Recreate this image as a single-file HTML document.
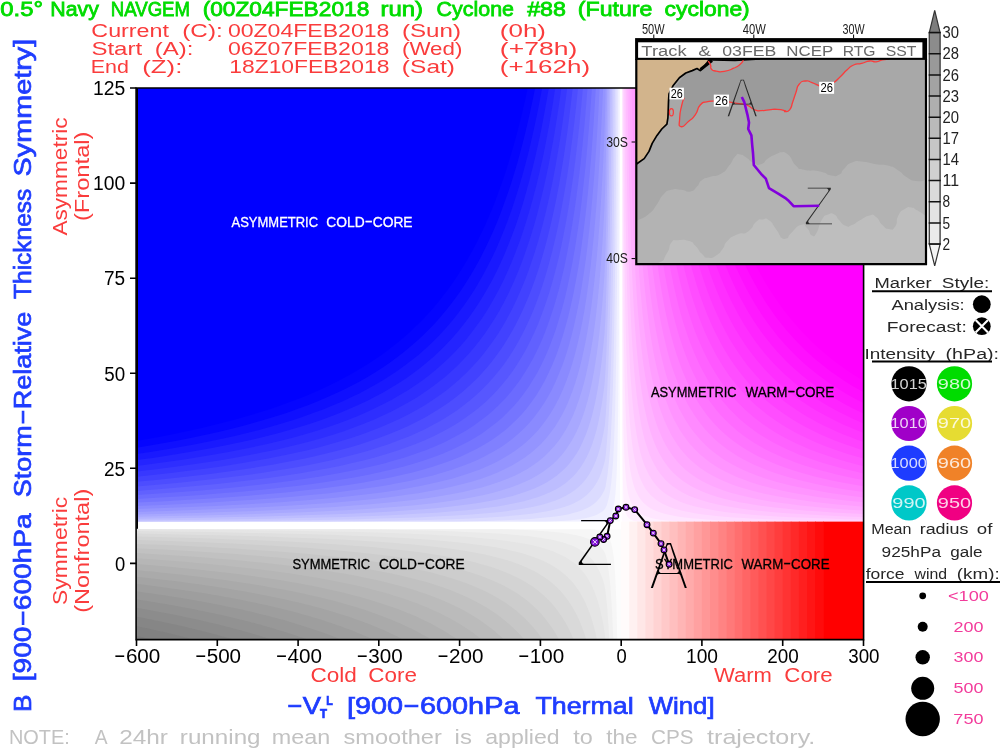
<!DOCTYPE html>
<html><head><meta charset="utf-8"><title>Cyclone phase space</title>
<style>html,body{margin:0;padding:0;background:#fff;overflow:hidden}svg{display:block}text{font-family:'Liberation Sans', sans-serif;white-space:pre}</style>
</head><body>
<svg width="1000" height="750" viewBox="0 0 1000 750">
<rect width="1000" height="750" fill="#fff"/>
<defs>
<clipPath id="cb"><rect x="136.5" y="88" width="483.5" height="433.6"/></clipPath>
<clipPath id="cm"><rect x="622" y="88" width="241.5" height="433.6"/></clipPath>
<clipPath id="cg"><rect x="136.5" y="529.2" width="484.7" height="110.3"/></clipPath>
</defs>
<g clip-path="url(#cb)">
<path d="M621.2 525.4L136.5 525.4L136.5 88L621.2 88Z" fill="#fafaff"/>
<path d="M136.5 525.3L201.7 525.2L258 525.2L306.9 525.2L349.1 525.2L385.7 525.1L417.3 525.1L444.7 525L468.4 525L489 524.9L506.7 524.8L522.1 524.7L535.4 524.6L547 524.5L556.9 524.4L565.6 524.2L573 524L579.5 523.8L585.1 523.6L590 523.3L594.2 523L597.8 522.6L600.9 522.2L603.6 521.7L605.5 521.1L606.6 520.4L607.6 519.6L608.6 518.7L609.4 517.7L610.3 516.5L611 515.1L611.7 513.6L612.4 511.7L613 509.6L613.6 507.1L614.1 504.3L614.6 501L615 497.2L615.5 492.9L615.9 487.8L616.2 482L616.6 475.2L616.9 467.4L617.2 458.4L617.5 448L617.7 436L618 422.1L618.2 406.1L618.4 387.6L618.6 366.2L618.8 341.4L618.9 312.9L619.1 279.9L619.2 241.7L619.4 197.7L619.5 146.8L619.6 88L136.5 88Z" fill="#f0f0ff"/>
<path d="M136.5 524.9L191.1 524.8L239.6 524.7L282.6 524.6L320.8 524.5L354.6 524.4L384.7 524.3L411.3 524.2L435 524L456 523.8L474.6 523.6L491.1 523.4L505.8 523.1L518.8 522.8L530.3 522.5L540.6 522.2L549.7 521.7L557.7 521.3L564.9 520.8L571.2 520.2L576.8 519.5L581.8 518.7L586.3 517.9L590.2 516.9L593.7 515.9L596.8 514.7L599.5 513.3L602 511.8L604.1 510L605.5 508.1L606.5 505.9L607.3 503.4L608.1 500.6L608.9 497.5L609.6 493.9L610.3 489.9L610.9 485.4L611.5 480.3L612 474.6L612.6 468.1L613.1 460.9L613.5 452.7L614 443.4L614.4 433L614.8 421.3L615.2 408L615.5 393.1L615.8 376.3L616.2 357.4L616.4 336L616.7 312L617 284.9L617.2 254.3L617.4 219.9L617.7 181.1L617.9 137.3L618.1 88L136.5 88Z" fill="#e6e6ff"/>
<path d="M136.5 524.2L184.9 524L228.4 523.9L267.6 523.7L302.9 523.5L334.6 523.3L363.2 523.1L389 522.9L412.1 522.6L433 522.3L451.8 521.9L468.7 521.5L483.9 521.1L497.6 520.6L509.9 520.1L521 519.5L531 518.9L540 518.1L548.1 517.3L555.4 516.4L562 515.5L567.9 514.4L573.2 513.1L578 511.8L582.3 510.3L586.2 508.6L589.7 506.7L592.8 504.7L595.6 502.4L598.2 499.8L600.5 497L602.5 493.8L604.4 490.3L605.6 486.4L606.3 482.1L607.1 477.3L607.8 472L608.5 466L609.2 459.5L609.8 452.2L610.4 444L610.9 435L611.4 425L611.9 413.9L612.4 401.5L612.9 387.8L613.3 372.5L613.7 355.6L614.1 336.8L614.4 315.8L614.8 292.6L615.1 266.8L615.4 238.1L615.7 206.3L616 170.9L616.3 131.6L616.5 88L136.5 88Z" fill="#dbdbff"/>
<path d="M136.5 523.2L180.4 523L220.2 522.8L256.5 522.5L289.5 522.2L319.5 521.9L346.8 521.6L371.7 521.2L394.2 520.8L414.8 520.3L433.4 519.8L450.4 519.3L465.9 518.7L479.9 518L492.7 517.3L504.3 516.4L514.9 515.6L524.5 514.6L533.3 513.5L541.2 512.3L548.5 511L555 509.6L561 508L566.5 506.3L571.4 504.4L575.9 502.3L580 500L583.7 497.5L587.1 494.7L590.2 491.6L593 488.3L595.6 484.6L597.9 480.5L600 476L601.9 471.1L603.6 465.7L605.1 459.8L605.9 453.2L606.6 446.1L607.2 438.2L607.9 429.5L608.5 420L609.1 409.5L609.7 397.9L610.2 385.3L610.7 371.3L611.2 356L611.6 339.1L612.1 320.6L612.5 300.2L612.9 277.8L613.3 253.2L613.7 226.1L614 196.3L614.3 163.6L614.6 127.6L615 88L136.5 88Z" fill="#d1d1ff"/>
<path d="M136.5 522L176.8 521.7L213.8 521.4L247.7 521L278.8 520.6L307.3 520.2L333.4 519.7L357.3 519.2L379.3 518.6L399.4 518L417.9 517.4L434.8 516.6L450.3 515.8L464.5 515L477.5 514L489.5 513L500.5 511.9L510.5 510.6L519.7 509.3L528.2 507.8L535.9 506.2L543 504.5L549.5 502.6L555.5 500.5L560.9 498.3L565.9 495.8L570.5 493.1L574.7 490.2L578.6 487L582.2 483.5L585.4 479.7L588.4 475.6L591.1 471L593.6 466.1L595.9 460.7L598 454.8L599.9 448.4L601.7 441.5L603.3 433.8L604.8 425.5L605.6 416.5L606.3 406.6L606.9 395.8L607.5 384L608.1 371.2L608.6 357.2L609.2 341.9L609.7 325.3L610.2 307.1L610.6 287.3L611.1 265.7L611.5 242.1L611.9 216.4L612.3 188.4L612.7 157.8L613.1 124.4L613.4 88L136.5 88Z" fill="#c7c7ff"/>
<path d="M136.5 520.5L173.9 520.1L208.5 519.7L240.3 519.2L269.7 518.7L296.9 518.1L321.9 517.5L345 516.9L366.4 516.2L386 515.4L404.2 514.5L420.9 513.6L436.4 512.7L450.7 511.6L463.8 510.4L476 509.2L487.2 507.8L497.5 506.4L507.1 504.8L515.9 503L524 501.2L531.5 499.1L538.5 496.9L544.8 494.6L550.7 492L556.2 489.2L561.2 486.2L565.8 482.9L570.1 479.3L574 475.5L577.7 471.3L581 466.7L584.1 461.8L587 456.5L589.6 450.8L592.1 444.5L594.3 437.7L596.4 430.4L598.3 422.4L600.1 413.8L601.7 404.5L603.2 394.4L604.6 383.4L605.4 371.5L606.1 358.7L606.7 344.7L607.2 329.6L607.8 313.2L608.3 295.4L608.8 276.2L609.3 255.3L609.8 232.7L610.2 208.2L610.6 181.7L611.1 152.9L611.5 121.8L611.8 88L136.5 88Z" fill="#bdbdff"/>
<path d="M136.5 518.8L171.5 518.3L203.9 517.7L234 517.1L261.9 516.5L287.8 515.8L311.9 515L334.2 514.2L354.9 513.4L374.1 512.4L391.9 511.4L408.4 510.3L423.8 509.2L438 507.9L451.2 506.5L463.5 505.1L474.9 503.5L485.4 501.8L495.2 500L504.3 498L512.7 495.9L520.5 493.6L527.8 491.1L534.5 488.4L540.8 485.5L546.6 482.4L552 479.1L557 475.5L561.6 471.6L565.9 467.4L569.9 462.9L573.6 458.1L577 452.9L580.2 447.2L583.1 441.1L585.9 434.6L588.4 427.5L590.8 419.9L593 411.7L595 402.9L596.9 393.4L598.7 383.1L600.3 372L601.8 360.1L603.2 347.3L604.5 333.4L605.4 318.5L605.9 302.4L606.5 285.1L607 266.4L607.5 246.3L608.1 224.6L608.5 201.2L609 176L609.4 148.8L609.9 119.5L610.3 88L136.5 88Z" fill="#b2b2ff"/>
<path d="M136.5 516.8L169.3 516.1L199.9 515.5L228.4 514.7L255 514L279.8 513.1L302.9 512.2L324.4 511.3L344.5 510.3L363.3 509.2L380.7 508L397 506.7L412.2 505.4L426.3 503.9L439.5 502.4L451.8 500.7L463.3 498.9L474 497L483.9 494.9L493.2 492.7L501.9 490.3L509.9 487.8L517.5 485L524.5 482.1L531 479L537.1 475.6L542.8 472L548.1 468.1L553.1 463.9L557.7 459.5L562 454.7L566 449.6L569.7 444.1L573.2 438.2L576.5 431.8L579.5 425L582.3 417.7L584.9 409.9L587.4 401.5L589.7 392.5L591.8 382.9L593.8 372.5L595.6 361.5L597.4 349.5L599 336.8L600.5 323.1L601.9 308.4L603.2 292.6L604.4 275.7L605.3 257.6L605.8 238.2L606.4 217.3L606.9 194.9L607.4 170.9L607.8 145.2L608.3 117.6L608.7 88L136.5 88Z" fill="#a8a8ff"/>
<path d="M136.5 514.5L167.4 513.7L196.3 512.9L223.4 512.1L248.8 511.2L272.5 510.2L294.8 509.2L315.6 508.1L335.1 506.9L353.3 505.6L370.4 504.3L386.4 502.8L401.3 501.3L415.4 499.7L428.5 497.9L440.8 496L452.3 494L463 491.9L473.1 489.6L482.6 487.2L491.4 484.6L499.7 481.8L507.4 478.8L514.7 475.7L521.5 472.3L527.8 468.7L533.8 464.8L539.3 460.7L544.6 456.3L549.4 451.6L554 446.5L558.3 441.2L562.3 435.4L566.1 429.3L569.6 422.7L572.9 415.8L575.9 408.3L578.8 400.3L581.5 391.8L584.1 382.7L586.4 373L588.6 362.6L590.7 351.5L592.7 339.7L594.5 327L596.2 313.5L597.8 299.1L599.3 283.7L600.7 267.2L602 249.6L603.2 230.8L604.3 210.8L605.2 189.3L605.7 166.4L606.2 142L606.7 115.9L607.2 88L136.5 88Z" fill="#9e9eff"/>
<path d="M136.5 511.9L165.7 511L193.1 510.1L218.9 509.1L243.1 508.1L265.9 507L287.3 505.8L307.4 504.6L326.3 503.2L344.1 501.8L360.8 500.3L376.4 498.7L391.2 497L405 495.1L418.1 493.2L430.3 491.1L441.8 488.9L452.6 486.6L462.7 484.1L472.3 481.5L481.3 478.7L489.7 475.7L497.6 472.5L505 469.1L512 465.5L518.6 461.6L524.8 457.6L530.6 453.2L536.1 448.6L541.2 443.7L546 438.4L550.5 432.8L554.8 426.9L558.8 420.6L562.5 413.9L566.1 406.7L569.4 399.1L572.5 391L575.4 382.4L578.2 373.3L580.8 363.5L583.2 353.1L585.5 342.1L587.6 330.4L589.7 317.8L591.6 304.5L593.3 290.4L595 275.3L596.6 259.3L598.1 242.2L599.5 224.1L600.8 204.8L602 184.2L603.2 162.4L604.2 139.1L605.1 114.3L605.6 88L136.5 88Z" fill="#9494ff"/>
<path d="M136.5 509.1L164.1 508.1L190.2 507L214.8 505.9L238 504.8L259.8 503.5L280.4 502.2L299.9 500.8L318.2 499.3L335.5 497.7L351.7 496L367.1 494.3L381.6 492.4L395.3 490.4L408.1 488.3L420.3 486L431.8 483.6L442.6 481.1L452.7 478.4L462.3 475.6L471.4 472.6L479.9 469.4L488 466L495.6 462.4L502.8 458.6L509.5 454.5L515.9 450.3L521.9 445.7L527.5 440.9L532.9 435.8L537.9 430.4L542.7 424.6L547.1 418.5L551.4 412.1L555.3 405.2L559.1 397.9L562.6 390.2L566 382.1L569.1 373.4L572.1 364.2L574.9 354.5L577.5 344.1L580 333.2L582.4 321.5L584.6 309.2L586.7 296.1L588.6 282.3L590.5 267.6L592.2 252L593.9 235.4L595.4 217.9L596.9 199.3L598.3 179.6L599.6 158.6L600.8 136.5L602 112.9L603.1 88L136.5 88Z" fill="#8a8aff"/>
<path d="M136.5 506L162.7 504.9L187.5 503.7L211 502.4L233.2 501.1L254.2 499.7L274 498.3L292.8 496.7L310.5 495.1L327.4 493.4L343.2 491.5L358.3 489.6L372.5 487.5L386 485.4L398.7 483.1L410.7 480.7L422.1 478.1L432.9 475.4L443 472.5L452.7 469.5L461.8 466.3L470.4 462.9L478.6 459.4L486.3 455.6L493.6 451.6L500.5 447.4L507 442.9L513.2 438.2L519 433.2L524.6 427.9L529.8 422.4L534.7 416.5L539.4 410.3L543.8 403.7L548 396.7L552 389.4L555.7 381.6L559.2 373.3L562.6 364.7L565.8 355.5L568.8 345.7L571.6 335.5L574.3 324.6L576.8 313.1L579.2 301L581.5 288.1L583.6 274.6L585.7 260.2L587.6 245.1L589.4 229L591.1 212.1L592.7 194.2L594.3 175.2L595.7 155.2L597.1 134L598.4 111.7L599.6 88L136.5 88Z" fill="#8080ff"/>
<path d="M136.5 502.6L161.4 501.4L185 500.1L207.4 498.7L228.7 497.2L248.9 495.7L268 494.1L286.1 492.4L303.4 490.6L319.7 488.7L335.2 486.8L349.9 484.7L363.8 482.5L377 480.1L389.6 477.7L401.5 475.1L412.8 472.4L423.5 469.5L433.6 466.5L443.3 463.3L452.4 459.9L461.1 456.4L469.3 452.6L477.1 448.7L484.5 444.5L491.5 440.2L498.2 435.5L504.5 430.7L510.5 425.5L516.2 420.1L521.6 414.4L526.7 408.4L531.6 402.1L536.2 395.4L540.5 388.4L544.7 380.9L548.6 373.1L552.3 364.9L555.9 356.2L559.2 347L562.4 337.3L565.4 327.1L568.3 316.4L571 305.1L573.6 293.2L576 280.6L578.4 267.3L580.6 253.3L582.6 238.6L584.6 223.1L586.5 206.7L588.3 189.4L590 171.2L591.6 152L593.1 131.8L594.5 110.5L595.9 88L136.5 88Z" fill="#7575ff"/>
<path d="M136.5 499L160.2 497.6L182.7 496.2L204.1 494.7L224.5 493.1L243.9 491.4L262.3 489.7L279.9 487.8L296.6 485.9L312.4 483.9L327.5 481.8L341.9 479.5L355.5 477.2L368.5 474.7L380.8 472.1L392.6 469.3L403.8 466.5L414.4 463.4L424.5 460.2L434.1 456.9L443.2 453.4L451.9 449.7L460.2 445.8L468.1 441.7L475.6 437.4L482.7 432.9L489.4 428.1L495.9 423.1L502 417.9L507.8 412.3L513.4 406.5L518.6 400.4L523.6 394L528.4 387.2L532.9 380.1L537.3 372.7L541.4 364.8L545.3 356.6L549 347.9L552.5 338.8L555.9 329.2L559 319.1L562.1 308.5L565 297.4L567.7 285.7L570.3 273.3L572.8 260.4L575.2 246.8L577.4 232.5L579.6 217.4L581.6 201.6L583.5 184.9L585.4 167.4L587.1 149L588.8 129.7L590.4 109.4L591.9 88L136.5 88Z" fill="#6b6bff"/>
<path d="M136.5 495L159 493.6L180.5 492L201 490.4L220.6 488.7L239.2 486.9L257 485L273.9 483L290.1 481L305.5 478.8L320.2 476.5L334.2 474.1L347.5 471.6L360.3 469L372.4 466.3L384 463.4L395 460.3L405.5 457.2L415.6 453.8L425.1 450.4L434.3 446.7L443 442.9L451.2 438.8L459.2 434.6L466.7 430.2L473.9 425.5L480.7 420.6L487.3 415.5L493.5 410.2L499.4 404.6L505.1 398.7L510.5 392.5L515.6 386L520.6 379.2L525.2 372.1L529.7 364.6L534 356.7L538 348.5L541.9 339.9L545.6 330.8L549.1 321.3L552.4 311.3L555.6 300.9L558.7 289.9L561.6 278.5L564.4 266.4L567 253.8L569.5 240.5L571.9 226.6L574.2 212L576.4 196.7L578.5 180.7L580.5 163.9L582.4 146.3L584.2 127.8L585.9 108.4L587.5 88L136.5 88Z" fill="#6161ff"/>
<path d="M136.5 490.9L158 489.3L178.5 487.6L198.1 485.8L216.9 484L234.8 482.1L251.9 480.1L268.3 478L283.9 475.8L298.9 473.5L313.2 471.1L326.8 468.5L339.9 465.9L352.3 463.1L364.3 460.2L375.6 457.2L386.5 454.1L396.9 450.8L406.9 447.3L416.4 443.7L425.4 439.9L434.1 435.9L442.4 431.8L450.3 427.4L457.9 422.9L465.1 418.1L472.1 413.1L478.7 407.9L485 402.5L491 396.8L496.8 390.8L502.3 384.6L507.6 378.1L512.6 371.2L517.4 364.1L522 356.6L526.4 348.8L530.6 340.6L534.6 332L538.5 323L542.1 313.6L545.6 303.8L549 293.5L552.2 282.8L555.2 271.5L558.2 259.8L561 247.4L563.6 234.5L566.2 221.1L568.6 206.9L570.9 192.2L573.2 176.7L575.3 160.5L577.3 143.6L579.3 125.9L581.1 107.4L582.9 88L136.5 88Z" fill="#5757ff"/>
<path d="M136.5 486.4L157 484.7L176.6 482.9L195.4 481L213.4 479.1L230.6 477L247.1 474.9L262.9 472.7L278 470.3L292.5 467.9L306.4 465.4L319.7 462.7L332.5 459.9L344.7 457.1L356.3 454L367.5 450.9L378.3 447.6L388.5 444.2L398.3 440.6L407.8 436.9L416.8 433L425.4 428.9L433.7 424.6L441.6 420.2L449.2 415.5L456.5 410.7L463.4 405.6L470.1 400.3L476.5 394.8L482.6 389.1L488.4 383L494 376.8L499.4 370.2L504.6 363.4L509.5 356.2L514.2 348.7L518.7 340.9L523.1 332.8L527.2 324.3L531.2 315.4L535 306.2L538.6 296.5L542.1 286.4L545.4 275.9L548.6 264.9L551.7 253.4L554.6 241.4L557.5 228.8L560.1 215.7L562.7 202.1L565.2 187.8L567.6 172.9L569.8 157.4L572 141.1L574.1 124.2L576.1 106.5L578 88L136.5 88Z" fill="#4d4dff"/>
<path d="M136.5 481.7L156 479.9L174.8 477.9L192.8 476L210 473.9L226.6 471.7L242.5 469.5L257.8 467.1L272.4 464.7L286.5 462.1L299.9 459.5L312.9 456.7L325.3 453.8L337.2 450.8L348.7 447.7L359.7 444.4L370.2 441L380.3 437.5L390 433.8L399.3 429.9L408.3 425.9L416.8 421.7L425.1 417.4L433 412.8L440.6 408.1L447.8 403.2L454.8 398.1L461.5 392.7L468 387.1L474.1 381.3L480.1 375.3L485.7 369L491.2 362.4L496.4 355.6L501.5 348.4L506.3 341L510.9 333.3L515.4 325.2L519.6 316.8L523.7 308L527.6 298.9L531.4 289.4L535 279.5L538.5 269.2L541.8 258.4L545 247.2L548.1 235.5L551 223.3L553.9 210.6L556.6 197.4L559.2 183.7L561.7 169.3L564.1 154.4L566.4 138.8L568.6 122.5L570.7 105.6L572.7 88L136.5 88Z" fill="#4242ff"/>
<path d="M136.5 476.7L155.1 474.8L173 472.7L190.3 470.6L206.8 468.4L222.8 466.2L238.1 463.8L252.8 461.3L267 458.8L280.6 456.1L293.7 453.3L306.3 450.4L318.4 447.4L330 444.3L341.2 441.1L352 437.7L362.3 434.2L372.3 430.6L381.8 426.8L391 422.8L399.9 418.7L408.4 414.5L416.6 410L424.4 405.4L432 400.6L439.3 395.6L446.3 390.5L453 385.1L459.4 379.5L465.7 373.6L471.6 367.5L477.4 361.2L482.9 354.7L488.2 347.8L493.3 340.8L498.3 333.4L503 325.7L507.5 317.7L511.9 309.4L516.1 300.8L520.1 291.8L524 282.5L527.8 272.7L531.3 262.6L534.8 252.1L538.1 241.2L541.3 229.8L544.4 218L547.3 205.7L550.2 193L552.9 179.7L555.5 165.9L558 151.5L560.5 136.5L562.8 121L565 104.8L567.2 88L136.5 88Z" fill="#3838ff"/>
<path d="M136.5 471.4L154.3 469.4L171.4 467.3L187.9 465L203.8 462.7L219.1 460.4L233.8 457.9L248.1 455.3L261.7 452.6L274.9 449.9L287.6 447L299.9 444L311.6 440.9L323 437.7L333.9 434.4L344.5 430.9L354.6 427.3L364.4 423.5L373.8 419.7L382.9 415.6L391.6 411.5L400 407.1L408.2 402.6L416 398L423.5 393.1L430.7 388.1L437.7 382.8L444.5 377.4L450.9 371.8L457.2 365.9L463.2 359.8L469 353.5L474.6 347L479.9 340.2L485.1 333.2L490.1 325.8L494.9 318.2L499.6 310.4L504 302.2L508.3 293.7L512.5 284.8L516.4 275.7L520.3 266.2L524 256.3L527.5 246.1L531 235.4L534.3 224.4L537.5 212.9L540.5 201L543.5 188.7L546.3 175.9L549.1 162.5L551.7 148.7L554.3 134.4L556.7 119.5L559.1 104L561.4 88L136.5 88Z" fill="#2e2eff"/>
<path d="M136.5 465.9L153.5 463.8L169.8 461.5L185.6 459.2L200.9 456.8L215.6 454.3L229.8 451.7L243.5 449.1L256.7 446.3L269.4 443.4L281.8 440.4L293.6 437.4L305.1 434.2L316.2 430.9L326.8 427.4L337.1 423.9L347.1 420.2L356.7 416.4L365.9 412.4L374.9 408.3L383.5 404.1L391.8 399.7L399.8 395.1L407.6 390.4L415.1 385.5L422.3 380.4L429.2 375.2L435.9 369.7L442.4 364.1L448.7 358.2L454.7 352.2L460.5 345.9L466.2 339.4L471.6 332.6L476.8 325.6L481.9 318.4L486.8 310.9L491.5 303.1L496 295.1L500.4 286.7L504.6 278L508.7 269.1L512.6 259.8L516.4 250.1L520.1 240.2L523.6 229.8L527 219.1L530.3 208L533.5 196.5L536.6 184.5L539.5 172.2L542.4 159.4L545.2 146.1L547.8 132.3L550.4 118.1L552.9 103.3L555.2 88L136.5 88Z" fill="#2424ff"/>
<path d="M136.5 460.1L152.7 457.9L168.3 455.5L183.5 453.1L198.1 450.6L212.2 448L225.9 445.3L239.1 442.6L251.8 439.7L264.2 436.8L276.1 433.7L287.6 430.5L298.7 427.3L309.5 423.9L319.9 420.4L330 416.7L339.7 413L349.1 409.1L358.2 405.1L367 400.9L375.5 396.6L383.7 392.2L391.6 387.6L399.3 382.8L406.7 377.9L413.8 372.8L420.8 367.5L427.4 362.1L433.9 356.4L440.2 350.6L446.2 344.5L452.1 338.3L457.7 331.8L463.2 325.1L468.4 318.2L473.5 311.1L478.5 303.6L483.2 296L487.8 288.1L492.3 279.9L496.6 271.4L500.8 262.6L504.8 253.5L508.7 244.1L512.4 234.4L516.1 224.4L519.6 214L523 203.2L526.2 192.1L529.4 180.6L532.5 168.6L535.4 156.3L538.3 143.6L541.1 130.4L543.7 116.7L546.3 102.6L548.8 88L136.5 88Z" fill="#1919ff"/>
<path d="M136.5 454L151.9 451.7L166.9 449.3L181.4 446.8L195.4 444.2L208.9 441.5L222.1 438.7L234.8 435.9L247.1 432.9L259 429.9L270.6 426.8L281.7 423.5L292.5 420.2L303 416.7L313.1 413.1L323 409.4L332.5 405.6L341.7 401.7L350.6 397.6L359.2 393.4L367.5 389L375.6 384.6L383.4 379.9L391 375.1L398.3 370.2L405.4 365.1L412.3 359.8L419 354.4L425.4 348.7L431.6 342.9L437.7 336.9L443.5 330.7L449.2 324.3L454.7 317.7L460 310.8L465.1 303.8L470.1 296.5L474.9 289L479.5 281.2L484.1 273.1L488.4 264.8L492.7 256.3L496.8 247.4L500.7 238.3L504.6 228.8L508.3 219.1L511.9 209L515.3 198.6L518.7 187.8L522 176.7L525.1 165.2L528.2 153.4L531.2 141.1L534 128.5L536.8 115.4L539.5 101.9L542.1 88L136.5 88Z" fill="#0f0fff"/>
<path d="M136.5 447.7L151.2 445.3L165.5 442.8L179.4 440.2L192.8 437.5L205.8 434.7L218.4 431.9L230.7 429L242.5 425.9L254 422.8L265.2 419.6L276 416.3L286.5 412.9L296.7 409.3L306.5 405.7L316.1 402L325.3 398.1L334.3 394.1L343.1 390L351.5 385.7L359.7 381.4L367.6 376.9L375.3 372.2L382.8 367.4L390.1 362.5L397.1 357.3L403.9 352.1L410.5 346.6L416.9 341L423.1 335.3L429.1 329.3L435 323.2L440.6 316.8L446.1 310.3L451.4 303.5L456.6 296.6L461.6 289.4L466.4 282L471.1 274.4L475.7 266.5L480.1 258.4L484.4 250.1L488.5 241.4L492.6 232.5L496.5 223.4L500.3 213.9L503.9 204.1L507.5 194.1L511 183.7L514.3 173L517.6 161.9L520.7 150.5L523.8 138.8L526.7 126.7L529.6 114.2L532.4 101.3L535.1 88L136.5 88Z" fill="#0505ff"/>
<path d="M136.5 441.1L150.5 438.6L164.2 436L177.4 433.3L190.3 430.6L202.8 427.7L214.9 424.8L226.6 421.8L238.1 418.7L249.2 415.5L260 412.3L270.4 408.9L280.6 405.4L290.4 401.8L300 398.2L309.3 394.4L318.4 390.4L327.1 386.4L335.7 382.3L343.9 378L352 373.6L359.8 369.1L367.3 364.4L374.7 359.6L381.8 354.7L388.8 349.6L395.5 344.3L402 338.9L408.4 333.4L414.5 327.6L420.5 321.7L426.3 315.7L432 309.4L437.5 303L442.8 296.3L448 289.5L453 282.4L457.8 275.2L462.6 267.7L467.2 260L471.6 252.1L476 244L480.2 235.6L484.3 226.9L488.2 218L492.1 208.9L495.8 199.4L499.4 189.7L503 179.7L506.4 169.4L509.7 158.7L513 147.8L516.1 136.5L519.1 124.9L522.1 113L525 100.7L527.7 88L136.5 88Z" fill="#0000ff"/>
</g>
<g clip-path="url(#cm)">
<path d="M621.2 525.4L863.5 525.4L863.5 88L621.2 88Z" fill="#fffaff"/>
<path d="M863.5 525.2L833 525.1L806.3 525.1L782.9 525.1L762.5 525L744.7 524.9L729.1 524.9L715.5 524.8L703.6 524.7L693.2 524.6L684.2 524.5L676.2 524.4L669.3 524.2L663.2 524.1L657.9 523.9L653.3 523.7L649.2 523.4L645.7 523.1L642.6 522.8L639.9 522.4L637.5 522L635.5 521.5L633.7 520.9L632.1 520.3L630.7 519.5L629.5 518.7L628.5 517.7L627.5 516.6L626.7 515.3L626 513.9L625.4 512.2L624.9 510.3L624.4 508.2L624 505.7L623.6 502.8L623.5 499.6L623.3 495.8L623.2 491.6L623 486.7L622.9 481.1L622.8 474.7L622.7 467.4L622.6 459.1L622.5 449.5L622.4 438.6L622.3 426L622.3 411.7L622.2 395.3L622.1 376.5L622.1 355.1L622 330.5L621.9 302.4L621.9 270.2L621.8 233.4L621.8 191.3L621.8 143.1L621.7 88L863.5 88Z" fill="#fff0ff"/>
<path d="M863.5 524.5L838.3 524.4L815.7 524.2L795.4 524.1L777.3 524L761 523.8L746.4 523.6L733.4 523.4L721.7 523.2L711.2 522.9L701.8 522.6L693.4 522.3L685.9 521.9L679.2 521.5L673.1 521.1L667.7 520.6L662.9 520L658.5 519.4L654.6 518.7L651.2 517.9L648 517.1L645.2 516.1L642.7 515L640.5 513.8L638.5 512.4L636.7 510.9L635.1 509.3L633.6 507.4L632.3 505.3L631.2 502.9L630.1 500.3L629.2 497.4L628.3 494.2L627.6 490.5L626.9 486.5L626.3 482L625.8 476.9L625.3 471.3L624.9 465L624.5 458L624.1 450.1L623.8 441.4L623.6 431.6L623.4 420.7L623.3 408.5L623.2 394.9L623.1 379.8L623 362.8L622.9 343.9L622.8 322.8L622.7 299.3L622.6 273L622.6 243.7L622.5 210.9L622.4 174.4L622.3 133.6L622.3 88L863.5 88Z" fill="#ffe6ff"/>
<path d="M863.5 523.3L841.4 523.1L821.4 522.9L803.1 522.6L786.6 522.3L771.5 522L757.8 521.7L745.4 521.3L734 520.9L723.8 520.5L714.4 520L705.9 519.4L698.2 518.8L691.2 518.2L684.8 517.5L679 516.7L673.7 515.8L669 514.8L664.6 513.8L660.6 512.6L657.1 511.3L653.8 509.9L650.8 508.4L648.1 506.7L645.7 504.8L643.4 502.7L641.4 500.5L639.6 498L637.9 495.2L636.4 492.2L635 488.9L633.7 485.2L632.6 481.2L631.5 476.8L630.6 471.9L629.7 466.5L629 460.6L628.2 454.1L627.6 447L627 439.1L626.5 430.5L626 421L625.6 410.5L625.2 399L624.8 386.3L624.5 372.4L624.2 357.1L623.9 340.2L623.6 321.7L623.5 301.2L623.4 278.8L623.3 254.1L623.2 226.9L623.1 197L623 164L622.9 127.8L622.8 88L863.5 88Z" fill="#ffdbff"/>
<path d="M863.5 521.7L843.7 521.4L825.5 521L808.8 520.6L793.5 520.2L779.4 519.7L766.5 519.2L754.6 518.7L743.7 518.1L733.7 517.4L724.5 516.7L716.1 515.9L708.3 515.1L701.2 514.2L694.7 513.2L688.7 512.1L683.1 510.9L678.1 509.6L673.4 508.2L669.2 506.7L665.2 505.1L661.6 503.2L658.3 501.3L655.3 499.1L652.5 496.8L649.9 494.2L647.6 491.5L645.4 488.5L643.5 485.2L641.6 481.6L640 477.7L638.4 473.4L637 468.8L635.7 463.8L634.5 458.3L633.4 452.3L632.4 445.8L631.5 438.8L630.7 431.1L629.9 422.7L629.2 413.5L628.5 403.6L627.9 392.7L627.4 380.9L626.9 368.1L626.4 354.1L626 338.9L625.6 322.3L625.2 304.2L624.9 284.5L624.6 263.1L624.3 239.8L624 214.3L623.8 186.7L623.6 156.5L623.5 123.7L623.4 88L863.5 88Z" fill="#ffd1ff"/>
<path d="M863.5 519.6L845.5 519.2L828.8 518.6L813.4 518.1L799.1 517.5L785.9 516.9L773.6 516.2L762.3 515.5L751.8 514.7L742.1 513.8L733.1 512.9L724.8 511.9L717.1 510.8L709.9 509.6L703.3 508.3L697.2 507L691.6 505.5L686.3 503.9L681.5 502.2L677 500.3L672.9 498.3L669 496.1L665.5 493.8L662.2 491.2L659.1 488.5L656.3 485.5L653.7 482.3L651.3 478.8L649 475.1L647 471.1L645 466.7L643.3 462L641.6 456.9L640.1 451.4L638.7 445.5L637.4 439L636.2 432.1L635.1 424.6L634 416.5L633.1 407.8L632.2 398.3L631.4 388.1L630.6 377.1L629.9 365.2L629.3 352.3L628.7 338.4L628.1 323.4L627.6 307.2L627.1 289.6L626.7 270.7L626.3 250.2L625.9 228.1L625.5 204.3L625.2 178.5L624.9 150.6L624.6 120.5L624.4 88L863.5 88Z" fill="#ffc7ff"/>
<path d="M863.5 517.1L846.9 516.5L831.5 515.8L817.2 515.1L803.8 514.3L791.3 513.5L779.7 512.7L768.9 511.7L758.8 510.7L749.4 509.7L740.6 508.5L732.5 507.3L724.9 505.9L717.8 504.5L711.2 503L705 501.3L699.3 499.6L694 497.7L689 495.7L684.4 493.5L680 491.1L676 488.6L672.3 485.9L668.8 483L665.5 479.9L662.5 476.6L659.7 473L657 469.2L654.6 465.1L652.3 460.6L650.2 455.9L648.2 450.8L646.4 445.3L644.6 439.4L643 433.1L641.5 426.4L640.2 419.1L638.9 411.3L637.6 403L636.5 394L635.5 384.4L634.5 374L633.6 362.9L632.7 351L631.9 338.2L631.2 324.5L630.5 309.8L629.9 294L629.3 277L628.7 258.8L628.2 239.3L627.7 218.3L627.3 195.8L626.9 171.6L626.5 145.7L626.1 117.9L625.8 88L863.5 88Z" fill="#ffbdff"/>
<path d="M863.5 514.1L848.2 513.3L833.9 512.5L820.4 511.6L807.8 510.7L796.1 509.7L785 508.6L774.7 507.5L765 506.3L755.9 505L747.4 503.6L739.4 502.2L731.9 500.6L724.9 498.9L718.4 497.2L712.2 495.2L706.5 493.2L701.1 491L696.1 488.7L691.3 486.3L686.9 483.6L682.7 480.8L678.9 477.8L675.2 474.6L671.8 471.2L668.6 467.5L665.6 463.6L662.8 459.4L660.2 455L657.7 450.3L655.4 445.2L653.2 439.8L651.2 434L649.3 427.8L647.5 421.3L645.9 414.2L644.3 406.8L642.8 398.8L641.5 390.2L640.2 381.1L639 371.4L637.9 361L636.8 349.9L635.8 338.1L634.9 325.5L634 312L633.2 297.6L632.5 282.2L631.7 265.8L631.1 248.4L630.5 229.7L629.9 209.7L629.3 188.5L628.8 165.7L628.3 141.5L627.9 115.6L627.4 88L863.5 88Z" fill="#ffb2ff"/>
<path d="M863.5 510.6L849.3 509.7L835.9 508.7L823.3 507.7L811.4 506.5L800.3 505.4L789.8 504.1L779.9 502.8L770.6 501.4L761.8 499.9L753.5 498.3L745.8 496.6L738.5 494.8L731.6 492.9L725.1 490.9L719 488.7L713.3 486.5L707.9 484L702.8 481.4L698 478.7L693.5 475.8L689.2 472.7L685.2 469.4L681.5 465.9L677.9 462.2L674.6 458.3L671.5 454.1L668.5 449.7L665.7 444.9L663.1 439.9L660.7 434.6L658.3 428.9L656.2 422.9L654.1 416.5L652.2 409.7L650.4 402.5L648.6 394.9L647 386.7L645.5 378.1L644.1 368.9L642.7 359.2L641.5 348.8L640.3 337.8L639.2 326.1L638.1 313.7L637.1 300.5L636.2 286.5L635.3 271.6L634.5 255.8L633.7 238.9L633 221.1L632.3 202.1L631.6 182L631 160.6L630.4 137.8L629.9 113.7L629.4 88L863.5 88Z" fill="#ffa8ff"/>
<path d="M863.5 506.7L850.2 505.6L837.7 504.4L825.9 503.2L814.7 501.9L804.1 500.6L794.1 499.1L784.6 497.6L775.7 496L767.2 494.3L759.2 492.5L751.7 490.6L744.5 488.6L737.8 486.5L731.4 484.2L725.4 481.8L719.7 479.3L714.3 476.6L709.2 473.8L704.4 470.8L699.8 467.7L695.5 464.3L691.5 460.8L687.6 457.1L684 453.1L680.5 448.9L677.3 444.5L674.2 439.8L671.3 434.9L668.6 429.6L666 424.1L663.5 418.2L661.2 412L659 405.5L656.9 398.5L655 391.2L653.1 383.4L651.4 375.2L649.7 366.5L648.2 357.3L646.7 347.6L645.3 337.3L644 326.4L642.7 314.9L641.6 302.7L640.4 289.8L639.4 276.2L638.4 261.8L637.4 246.5L636.6 230.4L635.7 213.3L634.9 195.3L634.2 176.1L633.5 155.9L632.8 134.5L632.1 111.9L631.5 88L863.5 88Z" fill="#ff9eff"/>
<path d="M863.5 502.3L851.1 501L839.3 499.7L828.2 498.3L817.6 496.9L807.6 495.3L798 493.7L789 492L780.4 490.2L772.2 488.3L764.5 486.3L757.2 484.2L750.2 482L743.6 479.6L737.4 477.2L731.4 474.6L725.8 471.8L720.4 468.9L715.4 465.9L710.5 462.7L706 459.3L701.6 455.8L697.5 452L693.6 448L689.9 443.9L686.4 439.5L683.1 434.8L679.9 430L676.9 424.8L674 419.4L671.3 413.7L668.8 407.7L666.3 401.3L664 394.6L661.8 387.6L659.8 380.2L657.8 372.3L655.9 364.1L654.1 355.4L652.4 346.2L650.8 336.6L649.3 326.4L647.9 315.7L646.5 304.4L645.2 292.4L644 279.9L642.8 266.6L641.7 252.7L640.7 238L639.7 222.5L638.7 206.2L637.8 189L637 170.8L636.2 151.7L635.4 131.6L634.7 110.4L634 88L863.5 88Z" fill="#ff94ff"/>
<path d="M863.5 497.4L851.9 496L840.8 494.5L830.3 493L820.3 491.3L810.8 489.6L801.7 487.8L793 485.9L784.8 484L776.9 481.9L769.5 479.7L762.4 477.4L755.6 475L749.2 472.4L743 469.8L737.2 467L731.6 464L726.3 460.9L721.3 457.7L716.5 454.3L711.9 450.7L707.6 446.9L703.5 443L699.5 438.8L695.8 434.5L692.2 429.9L688.8 425.1L685.5 420.1L682.5 414.8L679.5 409.2L676.7 403.4L674.1 397.2L671.5 390.8L669.1 384L666.8 376.9L664.6 369.4L662.6 361.5L660.6 353.3L658.7 344.6L656.9 335.5L655.2 326L653.5 316L652 305.4L650.5 294.4L649.1 282.7L647.8 270.5L646.5 257.7L645.3 244.2L644.1 230.1L643 215.2L642 199.6L641 183.2L640 166L639.1 147.9L638.3 128.9L637.4 109L636.7 88L863.5 88Z" fill="#ff8aff"/>
<path d="M863.5 492.1L852.6 490.5L842.2 488.9L832.3 487.2L822.8 485.4L813.7 483.5L805.1 481.5L796.8 479.5L788.9 477.3L781.4 475L774.2 472.7L767.3 470.2L760.7 467.6L754.5 464.9L748.5 462L742.7 459L737.3 455.9L732.1 452.6L727.1 449.2L722.3 445.6L717.8 441.9L713.4 437.9L709.3 433.8L705.3 429.5L701.5 425L697.9 420.3L694.5 415.3L691.2 410.1L688 404.7L685 399L682.2 393.1L679.4 386.9L676.8 380.3L674.3 373.5L671.9 366.4L669.6 358.9L667.4 351L665.4 342.8L663.4 334.2L661.5 325.2L659.7 315.8L657.9 306L656.3 295.6L654.7 284.8L653.2 273.5L651.8 261.7L650.4 249.2L649.1 236.2L647.8 222.6L646.6 208.4L645.5 193.5L644.4 177.8L643.3 161.5L642.3 144.4L641.4 126.4L640.5 107.7L639.6 88L863.5 88Z" fill="#ff80ff"/>
<path d="M863.5 486.3L853.3 484.6L843.5 482.8L834.1 480.9L825.1 479L816.5 476.9L808.2 474.8L800.4 472.5L792.8 470.2L785.5 467.8L778.6 465.2L772 462.6L765.6 459.8L759.5 456.9L753.7 453.9L748.1 450.8L742.7 447.5L737.6 444L732.7 440.5L728 436.7L723.4 432.8L719.1 428.7L715 424.5L711 420L707.2 415.4L703.6 410.5L700.1 405.5L696.8 400.2L693.6 394.7L690.5 388.9L687.6 382.9L684.8 376.6L682.1 370L679.6 363.2L677.1 356L674.7 348.6L672.5 340.8L670.3 332.6L668.2 324.2L666.2 315.3L664.3 306L662.5 296.4L660.8 286.3L659.1 275.7L657.5 264.7L656 253.2L654.5 241.2L653.1 228.7L651.7 215.6L650.4 202L649.2 187.7L648 172.8L646.9 157.3L645.8 141.1L644.8 124.1L643.8 106.5L642.8 88L863.5 88Z" fill="#ff75ff"/>
<path d="M863.5 480.1L853.9 478.2L844.7 476.2L835.8 474.2L827.3 472.1L819.1 469.9L811.2 467.6L803.7 465.2L796.5 462.7L789.5 460.1L782.8 457.5L776.4 454.6L770.3 451.7L764.3 448.7L758.7 445.5L753.2 442.2L748 438.8L742.9 435.2L738.1 431.5L733.5 427.6L729 423.5L724.7 419.3L720.6 415L716.7 410.4L712.9 405.6L709.2 400.7L705.8 395.5L702.4 390.2L699.2 384.6L696.1 378.8L693.1 372.7L690.3 366.4L687.5 359.8L684.9 353L682.4 345.9L679.9 338.5L677.6 330.7L675.4 322.7L673.2 314.3L671.1 305.6L669.2 296.5L667.3 287.1L665.4 277.2L663.7 267L662 256.3L660.4 245.2L658.8 233.6L657.3 221.6L655.9 209L654.5 195.9L653.2 182.3L651.9 168.1L650.7 153.4L649.5 138L648.4 122L647.3 105.4L646.3 88L863.5 88Z" fill="#ff6bff"/>
<path d="M863.5 473.4L854.5 471.3L845.8 469.3L837.4 467.1L829.3 464.8L821.5 462.5L814.1 460L806.9 457.5L799.9 454.9L793.3 452.1L786.9 449.3L780.7 446.3L774.7 443.3L769 440.1L763.5 436.8L758.2 433.4L753.1 429.8L748.1 426.1L743.4 422.2L738.8 418.3L734.5 414.1L730.2 409.8L726.2 405.3L722.2 400.7L718.5 395.8L714.8 390.8L711.4 385.6L708 380.2L704.7 374.5L701.6 368.7L698.6 362.6L695.7 356.3L693 349.8L690.3 343L687.7 335.9L685.2 328.5L682.8 320.9L680.5 313L678.3 304.8L676.2 296.2L674.1 287.3L672.2 278.1L670.3 268.5L668.4 258.6L666.7 248.2L665 237.5L663.3 226.3L661.8 214.7L660.2 202.7L658.8 190.2L657.4 177.2L656 163.7L654.7 149.7L653.5 135.1L652.3 120L651.1 104.3L650 88L863.5 88Z" fill="#ff61ff"/>
<path d="M863.5 466.2L855 464L846.8 461.8L838.9 459.5L831.2 457.1L823.9 454.6L816.8 452L809.9 449.4L803.3 446.6L796.9 443.8L790.7 440.8L784.8 437.7L779 434.5L773.5 431.2L768.2 427.8L763 424.2L758 420.6L753.2 416.8L748.6 412.8L744.1 408.7L739.8 404.5L735.6 400.1L731.6 395.5L727.7 390.8L724 385.9L720.4 380.8L716.9 375.6L713.6 370.1L710.3 364.5L707.2 358.6L704.2 352.6L701.3 346.3L698.5 339.8L695.7 333L693.1 326L690.6 318.8L688.2 311.3L685.8 303.5L683.5 295.4L681.4 287.1L679.2 278.4L677.2 269.4L675.2 260.1L673.3 250.5L671.5 240.5L669.7 230.1L668 219.4L666.4 208.2L664.8 196.7L663.3 184.7L661.8 172.4L660.4 159.5L659 146.2L657.7 132.4L656.4 118.2L655.2 103.3L654 88L863.5 88Z" fill="#ff57ff"/>
<path d="M863.5 458.6L855.5 456.3L847.8 453.9L840.3 451.5L833.1 449L826.1 446.4L819.3 443.7L812.8 440.9L806.5 438L800.3 435L794.4 431.9L788.7 428.7L783.2 425.4L777.8 422L772.7 418.5L767.7 414.9L762.8 411.1L758.2 407.2L753.6 403.2L749.3 399L745.1 394.7L741 390.2L737 385.6L733.2 380.8L729.5 375.9L725.9 370.8L722.5 365.5L719.1 360.1L715.9 354.4L712.8 348.6L709.7 342.6L706.8 336.3L704 329.9L701.3 323.2L698.6 316.3L696.1 309.2L693.6 301.8L691.2 294.2L688.9 286.3L686.7 278.1L684.5 269.7L682.4 261L680.4 251.9L678.4 242.6L676.5 233L674.7 223L673 212.7L671.2 202L669.6 191L668 179.5L666.4 167.7L665 155.5L663.5 142.9L662.1 129.9L660.8 116.4L659.5 102.4L658.2 88L863.5 88Z" fill="#ff4dff"/>
<path d="M863.5 450.5L856 448.1L848.7 445.6L841.6 443L834.8 440.4L828.2 437.7L821.8 434.9L815.5 432L809.5 429L803.7 425.9L798 422.7L792.5 419.4L787.2 416L782.1 412.5L777.1 408.9L772.2 405.2L767.5 401.4L763 397.4L758.6 393.3L754.3 389.1L750.2 384.7L746.2 380.2L742.3 375.5L738.6 370.8L734.9 365.8L731.4 360.7L728 355.4L724.7 350L721.5 344.4L718.4 338.6L715.3 332.6L712.4 326.4L709.6 320.1L706.8 313.5L704.2 306.7L701.6 299.7L699.1 292.5L696.7 285L694.4 277.3L692.1 269.4L689.9 261.2L687.8 252.7L685.7 244L683.7 235L681.8 225.7L679.9 216.1L678.1 206.2L676.3 196L674.6 185.4L672.9 174.6L671.3 163.3L669.8 151.8L668.3 139.8L666.8 127.4L665.4 114.7L664 101.6L662.7 88L863.5 88Z" fill="#ff42ff"/>
<path d="M863.5 441.9L856.4 439.4L849.6 436.8L842.9 434.2L836.5 431.4L830.2 428.6L824.1 425.7L818.2 422.7L812.4 419.6L806.9 416.5L801.5 413.2L796.2 409.8L791.1 406.3L786.1 402.8L781.3 399.1L776.7 395.3L772.1 391.4L767.7 387.4L763.5 383.2L759.3 379L755.3 374.6L751.4 370L747.6 365.4L743.9 360.6L740.3 355.6L736.9 350.5L733.5 345.3L730.2 339.9L727 334.3L724 328.6L721 322.7L718 316.6L715.2 310.3L712.5 303.9L709.8 297.2L707.2 290.4L704.7 283.3L702.3 276L699.9 268.5L697.6 260.8L695.4 252.9L693.2 244.7L691.1 236.3L689.1 227.6L687.1 218.7L685.2 209.5L683.3 200L681.5 190.2L679.8 180.2L678.1 169.8L676.4 159.1L674.8 148.1L673.2 136.8L671.7 125.1L670.2 113.1L668.8 100.7L667.4 88L863.5 88Z" fill="#ff38ff"/>
<path d="M863.5 432.9L856.9 430.3L850.4 427.6L844.1 424.9L838 422L832.1 419.1L826.3 416.1L820.7 413.1L815.3 409.9L810 406.7L804.8 403.3L799.8 399.9L794.9 396.4L790.1 392.7L785.5 389L781 385.2L776.6 381.2L772.4 377.2L768.2 373L764.2 368.7L760.3 364.3L756.5 359.8L752.8 355.1L749.2 350.3L745.7 345.4L742.3 340.3L739 335.1L735.7 329.8L732.6 324.3L729.6 318.6L726.6 312.8L723.7 306.8L720.9 300.6L718.2 294.3L715.5 287.8L712.9 281.1L710.4 274.3L708 267.2L705.6 259.9L703.3 252.5L701.1 244.8L698.9 236.9L696.7 228.8L694.7 220.4L692.7 211.9L690.7 203L688.8 194L687 184.6L685.2 175.1L683.4 165.2L681.7 155.1L680 144.7L678.4 133.9L676.9 122.9L675.3 111.6L673.9 100L672.4 88L863.5 88Z" fill="#ff2eff"/>
<path d="M863.5 423.4L857.3 420.7L851.2 418L845.3 415.1L839.6 412.2L834 409.3L828.5 406.2L823.2 403.1L818 399.8L812.9 396.5L808 393.1L803.2 389.6L798.5 386.1L794 382.4L789.6 378.6L785.2 374.8L781 370.8L776.9 366.7L772.9 362.6L769 358.3L765.2 353.9L761.5 349.3L757.9 344.7L754.4 339.9L751 335.1L747.7 330L744.4 324.9L741.3 319.6L738.2 314.2L735.2 308.6L732.3 302.9L729.4 297.1L726.6 291L723.9 284.9L721.3 278.5L718.7 272L716.2 265.4L713.8 258.5L711.4 251.5L709.1 244.3L706.8 236.9L704.6 229.3L702.5 221.5L700.4 213.5L698.4 205.2L696.4 196.8L694.4 188.1L692.6 179.3L690.7 170.1L688.9 160.8L687.2 151.2L685.5 141.3L683.9 131.2L682.3 120.8L680.7 110.2L679.2 99.2L677.7 88L863.5 88Z" fill="#ff24ff"/>
<path d="M863.5 413.5L857.7 410.7L852 407.9L846.4 405L841 402L835.7 399L830.6 395.9L825.5 392.7L820.6 389.4L815.8 386.1L811.1 382.6L806.6 379.1L802.1 375.5L797.8 371.8L793.5 368L789.4 364.2L785.3 360.2L781.4 356.1L777.5 351.9L773.8 347.7L770.1 343.3L766.5 338.8L763 334.2L759.6 329.5L756.3 324.7L753 319.7L749.9 314.7L746.8 309.5L743.8 304.1L740.8 298.7L737.9 293.1L735.1 287.4L732.4 281.5L729.7 275.5L727.1 269.3L724.5 263L722.1 256.6L719.6 250L717.3 243.2L715 236.2L712.7 229.1L710.5 221.8L708.4 214.3L706.3 206.6L704.2 198.8L702.2 190.7L700.3 182.5L698.4 174L696.5 165.4L694.7 156.5L692.9 147.4L691.2 138.1L689.5 128.6L687.9 118.8L686.3 108.8L684.7 98.5L683.2 88L863.5 88Z" fill="#ff19ff"/>
<path d="M863.5 403.1L858 400.3L852.7 397.4L847.5 394.4L842.4 391.4L837.4 388.3L832.6 385.2L827.8 381.9L823.2 378.6L818.6 375.3L814.2 371.8L809.8 368.3L805.6 364.7L801.5 361L797.4 357.2L793.4 353.3L789.6 349.3L785.8 345.3L782.1 341.2L778.4 336.9L774.9 332.6L771.5 328.1L768.1 323.6L764.8 319L761.5 314.2L758.4 309.3L755.3 304.4L752.3 299.3L749.3 294.1L746.4 288.8L743.6 283.3L740.9 277.7L738.2 272L735.5 266.2L733 260.2L730.5 254.1L728 247.9L725.6 241.5L723.2 235L720.9 228.3L718.7 221.5L716.5 214.5L714.4 207.3L712.3 200L710.2 192.5L708.2 184.8L706.3 177L704.3 169L702.5 160.8L700.6 152.4L698.9 143.8L697.1 135L695.4 126L693.7 116.9L692.1 107.5L690.5 97.8L688.9 88L863.5 88Z" fill="#ff0fff"/>
<path d="M863.5 392.2L858.4 389.3L853.4 386.4L848.5 383.4L843.8 380.4L839.1 377.3L834.5 374.1L830 370.9L825.6 367.5L821.3 364.1L817.1 360.7L813 357.2L809 353.5L805 349.9L801.2 346.1L797.4 342.2L793.7 338.3L790.1 334.3L786.5 330.2L783.1 326L779.7 321.7L776.3 317.4L773.1 312.9L769.9 308.3L766.7 303.7L763.7 298.9L760.7 294.1L757.8 289.1L754.9 284L752.1 278.8L749.3 273.6L746.6 268.1L744 262.6L741.4 257L738.9 251.2L736.4 245.3L734 239.3L731.6 233.2L729.3 226.9L727 220.5L724.8 214L722.6 207.3L720.5 200.5L718.4 193.5L716.4 186.4L714.4 179.1L712.4 171.7L710.5 164.1L708.6 156.3L706.8 148.4L705 140.3L703.2 132.1L701.5 123.6L699.8 115L698.2 106.2L696.5 97.2L695 88L863.5 88Z" fill="#ff05ff"/>
<path d="M863.5 380.9L858.8 378L854.1 375L849.5 372L845.1 369L840.7 365.8L836.4 362.7L832.2 359.4L828 356.1L824 352.7L820 349.3L816.1 345.7L812.3 342.2L808.6 338.5L804.9 334.8L801.3 331L797.8 327.1L794.3 323.1L790.9 319.1L787.6 315L784.3 310.8L781.1 306.5L778 302.1L774.9 297.6L771.9 293.1L769 288.4L766.1 283.7L763.3 278.9L760.5 274L757.7 268.9L755.1 263.8L752.4 258.6L749.9 253.3L747.4 247.8L744.9 242.3L742.5 236.6L740.1 230.9L737.8 225L735.5 219L733.2 212.9L731 206.6L728.9 200.3L726.8 193.8L724.7 187.1L722.7 180.4L720.7 173.5L718.8 166.5L716.8 159.3L715 152L713.1 144.5L711.3 136.9L709.6 129.2L707.8 121.3L706.1 113.2L704.5 105L702.8 96.6L701.2 88L863.5 88Z" fill="#ff00ff"/>
</g>
<g clip-path="url(#cg)">
<path d="M621.2 525.4L136.5 525.4L136.5 639.5L621.2 639.5Z" fill="#fcfcfc"/>
<path d="M136.5 525.6L187.4 525.7L233 525.7L273.7 525.7L310.2 525.8L342.9 525.8L372.1 525.8L398.3 525.9L421.7 526L442.6 526L461.4 526.1L478.2 526.2L493.2 526.3L506.6 526.4L518.7 526.5L529.4 526.6L539.1 526.7L547.7 526.9L555.4 527.1L562.3 527.3L568.5 527.5L574 527.7L579 528L583.4 528.3L587.4 528.7L590.9 529.1L594.1 529.5L596.9 530L599.5 530.5L601.8 531.1L603.8 531.8L605.3 532.5L606.2 533.4L607 534.3L607.8 535.3L608.5 536.5L609.2 537.8L609.8 539.3L610.4 540.9L611 542.7L611.6 544.7L612.1 547L612.6 549.5L613 552.4L613.5 555.5L613.9 559.1L614.3 563L614.6 567.4L615 572.4L615.3 577.9L615.6 584L615.9 590.9L616.2 598.6L616.5 607.2L616.7 616.8L617 627.5L617.2 639.5L136.5 639.5Z" fill="#f6f6f6"/>
<path d="M136.5 526.3L176.5 526.4L213.3 526.5L247 526.6L277.9 526.7L306.2 526.8L332.2 526.9L356.1 527.1L378 527.2L398.1 527.4L416.5 527.6L433.4 527.8L448.9 528L463.2 528.2L476.2 528.4L488.2 528.7L499.2 529L509.3 529.3L518.5 529.7L527 530.1L534.8 530.5L541.9 531L548.4 531.5L554.5 532L560 532.6L565 533.3L569.7 534L573.9 534.8L577.8 535.6L581.4 536.5L584.7 537.5L587.7 538.6L590.5 539.8L593 541.1L595.3 542.5L597.5 544.1L599.4 545.7L601.2 547.6L602.9 549.6L604.4 551.7L605.4 554.1L606.1 556.7L606.7 559.5L607.3 562.6L607.9 565.9L608.4 569.6L609 573.6L609.5 577.9L610 582.6L610.5 587.8L610.9 593.4L611.3 599.5L611.8 606.2L612.2 613.5L612.5 621.4L612.9 630.1L613.3 639.5L136.5 639.5Z" fill="#f0f0f0"/>
<path d="M136.5 527.5L170.1 527.6L201.3 527.8L230.3 527.9L257.4 528.1L282.6 528.3L306 528.6L327.8 528.8L348.1 529L367 529.3L384.6 529.6L401 529.9L416.3 530.3L430.4 530.6L443.6 531L455.9 531.4L467.4 531.9L478 532.4L487.9 532.9L497.1 533.4L505.7 534L513.7 534.7L521.2 535.4L528.1 536.1L534.5 536.9L540.5 537.7L546.1 538.7L551.3 539.6L556.1 540.7L560.6 541.8L564.8 543.1L568.7 544.4L572.4 545.8L575.7 547.3L578.9 548.9L581.8 550.7L584.5 552.6L587.1 554.6L589.4 556.8L591.6 559.1L593.7 561.6L595.6 564.3L597.3 567.2L599 570.3L600.5 573.6L602 577.2L603.3 581.1L604.5 585.2L605.3 589.7L605.9 594.5L606.4 599.6L607 605.1L607.5 611L607.9 617.4L608.4 624.2L608.9 631.6L609.3 639.5L136.5 639.5Z" fill="#eaeaea"/>
<path d="M136.5 529L165.4 529.3L192.6 529.5L218.1 529.8L242.1 530.1L264.7 530.4L286 530.7L306 531L324.8 531.4L342.4 531.7L359 532.1L374.7 532.6L389.4 533L403.2 533.5L416.2 534L428.4 534.6L439.9 535.2L450.7 535.8L460.9 536.4L470.4 537.1L479.4 537.9L487.9 538.7L495.8 539.5L503.3 540.4L510.3 541.4L516.9 542.4L523.1 543.4L529 544.6L534.5 545.8L539.6 547.1L544.5 548.5L549.1 549.9L553.4 551.5L557.4 553.2L561.2 554.9L564.8 556.8L568.1 558.8L571.3 560.9L574.3 563.1L577.1 565.5L579.7 568.1L582.2 570.8L584.5 573.7L586.7 576.7L588.7 580L590.7 583.4L592.5 587.1L594.2 591L595.8 595.2L597.3 599.6L598.7 604.3L600.1 609.3L601.3 614.6L602.5 620.3L603.6 626.3L604.7 632.7L605.3 639.5L136.5 639.5Z" fill="#e5e5e5"/>
<path d="M136.5 531.1L161.7 531.4L185.7 531.7L208.4 532.1L229.9 532.5L250.2 532.9L269.6 533.3L287.9 533.7L305.2 534.1L321.7 534.6L337.3 535.1L352.1 535.7L366.1 536.2L379.4 536.8L392 537.5L403.9 538.1L415.2 538.8L426 539.6L436.1 540.3L445.8 541.2L454.9 542L463.6 542.9L471.8 543.9L479.6 544.9L486.9 546L493.9 547.1L500.6 548.3L506.8 549.6L512.8 550.9L518.4 552.3L523.8 553.8L528.9 555.4L533.7 557L538.2 558.7L542.5 560.6L546.6 562.5L550.5 564.5L554.2 566.7L557.7 569L561 571.4L564.1 573.9L567.1 576.5L569.9 579.4L572.6 582.3L575.1 585.4L577.5 588.7L579.8 592.2L581.9 595.9L584 599.8L585.9 603.9L587.8 608.2L589.5 612.7L591.2 617.5L592.7 622.6L594.2 627.9L595.6 633.6L596.9 639.5L136.5 639.5Z" fill="#dfdfdf"/>
<path d="M136.5 533.6L158.7 534L180 534.4L200.2 534.9L219.5 535.3L238 535.8L255.6 536.3L272.3 536.8L288.4 537.4L303.6 537.9L318.2 538.5L332.1 539.2L345.4 539.8L358 540.5L370.1 541.3L381.6 542L392.6 542.8L403.1 543.7L413.1 544.5L422.7 545.5L431.8 546.4L440.5 547.4L448.8 548.5L456.7 549.6L464.2 550.8L471.4 552L478.3 553.3L484.9 554.6L491.1 556L497.1 557.5L502.8 559L508.2 560.6L513.4 562.3L518.3 564.1L523.1 566L527.6 567.9L531.9 570L536 572.1L539.9 574.4L543.6 576.7L547.2 579.2L550.6 581.8L553.8 584.5L556.9 587.3L559.8 590.3L562.7 593.4L565.3 596.7L567.9 600.2L570.3 603.8L572.7 607.5L574.9 611.5L577 615.6L579.1 620L581 624.5L582.8 629.3L584.6 634.3L586.3 639.5L136.5 639.5Z" fill="#d9d9d9"/>
<path d="M136.5 536.6L156.2 537.1L175.1 537.5L193.2 538.1L210.6 538.6L227.3 539.2L243.3 539.7L258.6 540.3L273.4 541L287.5 541.6L301.1 542.3L314.1 543L326.5 543.8L338.5 544.6L350 545.4L361 546.2L371.6 547.1L381.7 548L391.4 549L400.8 550L409.7 551L418.3 552.1L426.6 553.2L434.5 554.4L442.1 555.7L449.3 556.9L456.3 558.3L463 559.7L469.4 561.1L475.6 562.6L481.5 564.2L487.2 565.8L492.6 567.6L497.9 569.3L502.9 571.2L507.7 573.2L512.3 575.2L516.7 577.3L521 579.5L525 581.8L528.9 584.2L532.7 586.6L536.3 589.2L539.7 591.9L543 594.8L546.2 597.7L549.3 600.8L552.2 604L555 607.3L557.7 610.7L560.2 614.4L562.7 618.1L565.1 622.1L567.4 626.1L569.6 630.4L571.7 634.9L573.7 639.5L136.5 639.5Z" fill="#d3d3d3"/>
<path d="M136.5 540L154 540.5L170.8 541.1L187 541.7L202.7 542.3L217.8 542.9L232.3 543.6L246.3 544.3L259.8 545L272.9 545.7L285.4 546.5L297.5 547.3L309.2 548.1L320.4 548.9L331.3 549.8L341.7 550.7L351.8 551.7L361.5 552.7L370.9 553.7L379.9 554.7L388.6 555.8L397 557L405 558.1L412.8 559.4L420.3 560.6L427.6 562L434.6 563.3L441.3 564.7L447.8 566.2L454 567.7L460 569.3L465.8 571L471.4 572.7L476.8 574.4L482 576.3L487.1 578.2L491.9 580.2L496.6 582.2L501 584.3L505.4 586.5L509.5 588.8L513.6 591.2L517.4 593.6L521.2 596.2L524.8 598.8L528.3 601.6L531.6 604.4L534.8 607.4L538 610.5L541 613.6L543.8 616.9L546.6 620.4L549.3 623.9L551.9 627.6L554.4 631.4L556.8 635.4L559.1 639.5L136.5 639.5Z" fill="#cdcdcd"/>
<path d="M136.5 543.9L152 544.5L167 545.1L181.5 545.8L195.6 546.4L209.2 547.1L222.4 547.9L235.1 548.6L247.5 549.4L259.4 550.2L271 551L282.2 551.8L293 552.7L303.5 553.6L313.7 554.5L323.5 555.5L333 556.5L342.2 557.5L351.2 558.6L359.8 559.7L368.2 560.8L376.3 562L384.1 563.2L391.7 564.4L399 565.7L406.1 567.1L413 568.4L419.6 569.9L426.1 571.3L432.3 572.8L438.4 574.4L444.2 576L449.9 577.7L455.4 579.4L460.7 581.2L465.8 583.1L470.8 585L475.6 586.9L480.2 589L484.7 591.1L489.1 593.2L493.3 595.5L497.4 597.8L501.4 600.2L505.2 602.6L508.9 605.2L512.5 607.8L516 610.6L519.3 613.4L522.6 616.3L525.7 619.3L528.8 622.4L531.7 625.6L534.6 628.9L537.4 632.3L540.1 635.9L542.7 639.5L136.5 639.5Z" fill="#c7c7c7"/>
<path d="M136.5 548.2L150.2 548.9L163.6 549.6L176.5 550.3L189.1 551L201.4 551.7L213.3 552.5L224.8 553.3L236.1 554.1L247 555L257.6 555.8L267.9 556.7L277.9 557.6L287.6 558.6L297.1 559.5L306.2 560.5L315.2 561.5L323.8 562.6L332.2 563.7L340.4 564.8L348.4 565.9L356.1 567.1L363.6 568.3L370.9 569.6L378 570.9L384.9 572.2L391.6 573.6L398.1 575L404.4 576.4L410.6 577.9L416.5 579.4L422.3 581L428 582.6L433.4 584.3L438.7 586L443.9 587.8L448.9 589.6L453.8 591.5L458.6 593.4L463.2 595.4L467.6 597.4L472 599.5L476.2 601.7L480.3 603.9L484.3 606.2L488.2 608.6L492 611L495.6 613.5L499.2 616.1L502.6 618.7L506 621.4L509.3 624.2L512.4 627.1L515.5 630.1L518.5 633.1L521.4 636.3L524.2 639.5L136.5 639.5Z" fill="#c1c1c1"/>
<path d="M136.5 553L148.6 553.7L160.4 554.4L172 555.2L183.2 556L194.2 556.7L204.9 557.5L215.3 558.4L225.4 559.2L235.3 560.1L245 561L254.4 561.9L263.6 562.8L272.5 563.8L281.2 564.8L289.7 565.8L298 566.8L306.1 567.9L314 569L321.7 570.1L329.2 571.2L336.5 572.4L343.6 573.6L350.5 574.8L357.3 576.1L363.9 577.4L370.3 578.8L376.6 580.1L382.7 581.5L388.7 583L394.5 584.4L400.2 586L405.7 587.5L411.1 589.1L416.4 590.7L421.5 592.4L426.5 594.1L431.4 595.9L436.1 597.7L440.7 599.6L445.2 601.5L449.6 603.4L453.9 605.4L458.1 607.5L462.2 609.6L466.2 611.7L470.1 614L473.8 616.2L477.5 618.6L481.1 621L484.6 623.4L488 625.9L491.4 628.5L494.6 631.1L497.8 633.9L500.9 636.6L503.9 639.5L136.5 639.5Z" fill="#bbbbbb"/>
<path d="M136.5 558.3L147.2 559L157.6 559.8L167.8 560.5L177.7 561.3L187.5 562.1L197 562.9L206.3 563.8L215.5 564.7L224.4 565.5L233.1 566.4L241.6 567.4L250 568.3L258.1 569.3L266.1 570.3L273.9 571.3L281.6 572.3L289 573.3L296.3 574.4L303.5 575.5L310.4 576.7L317.3 577.8L324 579L330.5 580.2L336.9 581.4L343.1 582.7L349.2 584L355.2 585.3L361.1 586.6L366.8 588L372.4 589.4L377.8 590.9L383.2 592.3L388.4 593.8L393.5 595.4L398.5 596.9L403.4 598.5L408.2 600.2L412.9 601.9L417.5 603.6L422 605.4L426.3 607.1L430.6 609L434.8 610.9L438.9 612.8L442.9 614.7L446.8 616.8L450.7 618.8L454.4 620.9L458.1 623.1L461.7 625.3L465.2 627.5L468.6 629.8L472 632.1L475.2 634.5L478.4 637L481.6 639.5L136.5 639.5Z" fill="#b6b6b6"/>
<path d="M136.5 564L145.8 564.7L154.9 565.5L163.9 566.3L172.6 567.1L181.2 567.9L189.7 568.7L198 569.6L206.1 570.4L214 571.3L221.8 572.2L229.5 573.1L237 574.1L244.4 575L251.6 576L258.7 577L265.7 578L272.5 579L279.2 580.1L285.7 581.1L292.2 582.2L298.5 583.3L304.7 584.5L310.7 585.6L316.7 586.8L322.5 588L328.3 589.2L333.9 590.5L339.4 591.7L344.8 593L350.1 594.4L355.3 595.7L360.4 597.1L365.4 598.5L370.3 599.9L375.1 601.4L379.8 602.9L384.5 604.4L389 605.9L393.5 607.5L397.8 609.1L402.1 610.7L406.3 612.4L410.4 614.1L414.5 615.8L418.4 617.6L422.3 619.4L426.2 621.2L429.9 623.1L433.6 625L437.2 627L440.7 629L444.2 631L447.5 633.1L450.9 635.2L454.1 637.3L457.3 639.5L136.5 639.5Z" fill="#b0b0b0"/>
<path d="M136.5 570.1L144.5 570.9L152.4 571.6L160.2 572.4L167.9 573.2L175.4 574L182.8 574.8L190 575.7L197.2 576.5L204.2 577.4L211.1 578.3L217.9 579.2L224.6 580.1L231.2 581L237.7 581.9L244 582.9L250.3 583.8L256.4 584.8L262.5 585.8L268.4 586.9L274.3 587.9L280 588.9L285.7 590L291.3 591.1L296.7 592.2L302.1 593.3L307.4 594.5L312.6 595.7L317.7 596.8L322.7 598L327.7 599.3L332.6 600.5L337.4 601.8L342.1 603.1L346.7 604.4L351.2 605.7L355.7 607.1L360.1 608.4L364.4 609.8L368.7 611.3L372.9 612.7L377 614.2L381.1 615.7L385 617.2L389 618.8L392.8 620.3L396.6 621.9L400.3 623.6L404 625.2L407.6 626.9L411.1 628.6L414.6 630.3L418 632.1L421.4 633.9L424.7 635.7L428 637.6L431.2 639.5L136.5 639.5Z" fill="#aaaaaa"/>
<path d="M136.5 576.7L143.4 577.5L150.1 578.2L156.8 579L163.4 579.8L169.9 580.5L176.2 581.3L182.5 582.1L188.8 582.9L194.9 583.8L200.9 584.6L206.9 585.5L212.7 586.3L218.5 587.2L224.2 588.1L229.8 589L235.4 589.9L240.8 590.8L246.2 591.8L251.5 592.7L256.8 593.7L261.9 594.7L267 595.7L272 596.7L277 597.7L281.8 598.7L286.6 599.8L291.4 600.9L296 601.9L300.6 603L305.2 604.2L309.7 605.3L314.1 606.4L318.4 607.6L322.7 608.8L326.9 610L331.1 611.2L335.2 612.4L339.2 613.7L343.2 614.9L347.2 616.2L351.1 617.5L354.9 618.9L358.6 620.2L362.4 621.6L366 622.9L369.6 624.3L373.2 625.8L376.7 627.2L380.2 628.7L383.6 630.1L386.9 631.6L390.3 633.2L393.5 634.7L396.8 636.3L399.9 637.9L403.1 639.5L136.5 639.5Z" fill="#a4a4a4"/>
<path d="M136.5 583.8L142.3 584.5L148 585.2L153.6 586L159.1 586.7L164.6 587.4L170 588.2L175.4 588.9L180.7 589.7L185.9 590.5L191.1 591.2L196.2 592L201.3 592.8L206.3 593.6L211.2 594.5L216.1 595.3L220.9 596.1L225.6 597L230.3 597.8L235 598.7L239.6 599.6L244.1 600.5L248.6 601.4L253 602.3L257.4 603.2L261.7 604.2L266 605.1L270.2 606.1L274.4 607L278.5 608L282.6 609L286.6 610L290.6 611L294.5 612.1L298.4 613.1L302.2 614.2L306 615.2L309.7 616.3L313.4 617.4L317.1 618.5L320.7 619.6L324.3 620.8L327.8 621.9L331.3 623.1L334.7 624.3L338.1 625.4L341.5 626.6L344.8 627.9L348.1 629.1L351.4 630.3L354.6 631.6L357.7 632.9L360.9 634.2L364 635.5L367 636.8L370 638.1L373 639.5L136.5 639.5Z" fill="#9e9e9e"/>
<path d="M136.5 591.3L141.2 592L145.9 592.7L150.5 593.3L155.1 594L159.7 594.7L164.1 595.3L168.6 596L173 596.7L177.4 597.4L181.7 598.1L186 598.8L190.2 599.6L194.4 600.3L198.6 601L202.7 601.8L206.8 602.5L210.8 603.3L214.8 604.1L218.8 604.8L222.7 605.6L226.6 606.4L230.4 607.2L234.2 608L238 608.8L241.7 609.6L245.4 610.5L249.1 611.3L252.7 612.1L256.3 613L259.8 613.9L263.4 614.7L266.8 615.6L270.3 616.5L273.7 617.4L277.1 618.3L280.4 619.2L283.8 620.1L287.1 621.1L290.3 622L293.5 623L296.7 623.9L299.9 624.9L303 625.9L306.1 626.9L309.2 627.9L312.2 628.9L315.2 629.9L318.2 630.9L321.2 631.9L324.1 633L327 634L329.8 635.1L332.7 636.2L335.5 637.3L338.3 638.4L341 639.5L136.5 639.5Z" fill="#989898"/>
<path d="M136.5 599.3L140.2 599.9L144 600.5L147.6 601.1L151.3 601.7L154.9 602.3L158.5 602.9L162.1 603.5L165.6 604.1L169.1 604.7L172.6 605.3L176.1 605.9L179.5 606.5L182.9 607.2L186.3 607.8L189.7 608.4L193 609.1L196.3 609.7L199.6 610.4L202.8 611.1L206.1 611.7L209.3 612.4L212.5 613.1L215.6 613.8L218.7 614.4L221.8 615.1L224.9 615.8L228 616.5L231 617.2L234 618L237 618.7L240 619.4L242.9 620.1L245.8 620.9L248.7 621.6L251.6 622.4L254.5 623.1L257.3 623.9L260.1 624.6L262.9 625.4L265.7 626.2L268.4 627L271.1 627.8L273.8 628.6L276.5 629.4L279.2 630.2L281.8 631L284.4 631.8L287 632.6L289.6 633.5L292.2 634.3L294.7 635.2L297.2 636L299.7 636.9L302.2 637.7L304.7 638.6L307.1 639.5L136.5 639.5Z" fill="#929292"/>
<path d="M136.5 607.8L139.3 608.3L142.1 608.7L144.9 609.2L147.6 609.7L150.4 610.2L153.1 610.7L155.8 611.2L158.5 611.7L161.2 612.2L163.9 612.7L166.5 613.2L169.2 613.7L171.8 614.3L174.4 614.8L177 615.3L179.6 615.8L182.1 616.3L184.7 616.9L187.2 617.4L189.7 617.9L192.2 618.5L194.7 619L197.2 619.6L199.6 620.1L202.1 620.7L204.5 621.2L206.9 621.8L209.3 622.4L211.7 622.9L214.1 623.5L216.5 624.1L218.8 624.6L221.1 625.2L223.5 625.8L225.8 626.4L228.1 627L230.3 627.6L232.6 628.2L234.9 628.8L237.1 629.4L239.3 630L241.5 630.6L243.8 631.2L245.9 631.8L248.1 632.4L250.3 633.1L252.4 633.7L254.6 634.3L256.7 634.9L258.8 635.6L260.9 636.2L263 636.9L265.1 637.5L267.1 638.2L269.2 638.8L271.2 639.5L136.5 639.5Z" fill="#8c8c8c"/>
<path d="M136.5 616.7L138.4 617L140.3 617.4L142.3 617.8L144.2 618.1L146.1 618.5L148 618.9L149.8 619.3L151.7 619.6L153.6 620L155.4 620.4L157.3 620.8L159.1 621.2L161 621.5L162.8 621.9L164.6 622.3L166.4 622.7L168.2 623.1L170 623.5L171.8 623.9L173.6 624.3L175.4 624.6L177.2 625L178.9 625.4L180.7 625.8L182.5 626.2L184.2 626.6L185.9 627L187.7 627.5L189.4 627.9L191.1 628.3L192.8 628.7L194.5 629.1L196.2 629.5L197.9 629.9L199.6 630.3L201.3 630.8L202.9 631.2L204.6 631.6L206.3 632L207.9 632.5L209.6 632.9L211.2 633.3L212.8 633.7L214.4 634.2L216.1 634.6L217.7 635L219.3 635.5L220.9 635.9L222.5 636.4L224.1 636.8L225.6 637.2L227.2 637.7L228.8 638.1L230.3 638.6L231.9 639L233.4 639.5L136.5 639.5Z" fill="#868686"/>
<path d="M136.5 626L137.6 626.3L138.7 626.5L139.7 626.7L140.8 626.9L141.9 627.2L143 627.4L144 627.6L145.1 627.9L146.2 628.1L147.2 628.3L148.3 628.5L149.4 628.8L150.4 629L151.5 629.2L152.5 629.5L153.6 629.7L154.6 629.9L155.7 630.2L156.7 630.4L157.8 630.7L158.8 630.9L159.8 631.1L160.9 631.4L161.9 631.6L162.9 631.8L163.9 632.1L165 632.3L166 632.6L167 632.8L168 633L169 633.3L170.1 633.5L171.1 633.8L172.1 634L173.1 634.3L174.1 634.5L175.1 634.7L176.1 635L177.1 635.2L178.1 635.5L179.1 635.7L180.1 636L181 636.2L182 636.5L183 636.7L184 637L185 637.2L186 637.5L186.9 637.7L187.9 638L188.9 638.2L189.8 638.5L190.8 638.7L191.8 639L192.7 639.2L193.7 639.5L136.5 639.5Z" fill="#818181"/>
<path d="M136.5 635.8L136.8 635.9L137.1 636L137.3 636L137.6 636.1L137.9 636.2L138.2 636.2L138.5 636.3L138.7 636.4L139 636.4L139.3 636.5L139.6 636.6L139.9 636.6L140.1 636.7L140.4 636.8L140.7 636.8L141 636.9L141.3 636.9L141.5 637L141.8 637.1L142.1 637.1L142.4 637.2L142.7 637.3L142.9 637.3L143.2 637.4L143.5 637.5L143.8 637.5L144 637.6L144.3 637.7L144.6 637.7L144.9 637.8L145.1 637.9L145.4 637.9L145.7 638L146 638.1L146.3 638.1L146.5 638.2L146.8 638.2L147.1 638.3L147.4 638.4L147.6 638.4L147.9 638.5L148.2 638.6L148.5 638.6L148.7 638.7L149 638.8L149.3 638.8L149.6 638.9L149.8 639L150.1 639L150.4 639.1L150.6 639.2L150.9 639.2L151.2 639.3L151.5 639.4L151.7 639.4L152 639.5L136.5 639.5Z" fill="#7b7b7b"/>
</g>
<rect x="621.2" y="521.6" width="8.7" height="117.9" fill="#fffbfb"/>
<rect x="629.2" y="521.6" width="8.7" height="117.9" fill="#fff1f1"/>
<rect x="637.3" y="521.6" width="8.7" height="117.9" fill="#ffe7e7"/>
<rect x="645.4" y="521.6" width="8.7" height="117.9" fill="#ffdddd"/>
<rect x="653.5" y="521.6" width="8.7" height="117.9" fill="#ffd3d3"/>
<rect x="661.6" y="521.6" width="8.7" height="117.9" fill="#ffc9c9"/>
<rect x="669.6" y="521.6" width="8.7" height="117.9" fill="#ffbfbf"/>
<rect x="677.7" y="521.6" width="8.7" height="117.9" fill="#ffb5b5"/>
<rect x="685.8" y="521.6" width="8.7" height="117.9" fill="#ffabab"/>
<rect x="693.9" y="521.6" width="8.7" height="117.9" fill="#ffa1a1"/>
<rect x="701.9" y="521.6" width="8.7" height="117.9" fill="#ff9797"/>
<rect x="710" y="521.6" width="8.7" height="117.9" fill="#ff8d8d"/>
<rect x="718.1" y="521.6" width="8.7" height="117.9" fill="#ff8383"/>
<rect x="726.2" y="521.6" width="8.7" height="117.9" fill="#ff7979"/>
<rect x="734.3" y="521.6" width="8.7" height="117.9" fill="#ff6f6f"/>
<rect x="742.3" y="521.6" width="8.7" height="117.9" fill="#ff6565"/>
<rect x="750.4" y="521.6" width="8.7" height="117.9" fill="#ff5b5b"/>
<rect x="758.5" y="521.6" width="8.7" height="117.9" fill="#ff5151"/>
<rect x="766.6" y="521.6" width="8.7" height="117.9" fill="#ff4747"/>
<rect x="774.6" y="521.6" width="8.7" height="117.9" fill="#ff3d3d"/>
<rect x="782.7" y="521.6" width="8.7" height="117.9" fill="#ff3333"/>
<rect x="790.8" y="521.6" width="8.7" height="117.9" fill="#ff2929"/>
<rect x="798.9" y="521.6" width="8.7" height="117.9" fill="#ff1f1f"/>
<rect x="807" y="521.6" width="8.7" height="117.9" fill="#ff1515"/>
<rect x="815" y="521.6" width="8.7" height="117.9" fill="#ff0b0b"/>
<rect x="823.1" y="521.6" width="40.4" height="117.9" fill="#ff0000"/>
<path d="M136.1 87.2V640.4M135.3 88H864.4M135.3 639.6H864.4M863.6 87.2V640.4" fill="none" stroke="#000" stroke-width="1.6"/>
<rect x="136.5" y="88" width="1.5" height="440.8" fill="#000"/>
<path d="M130 563.4H136.5M130 468.3H136.5M130 373.3H136.5M130 278.2H136.5M130 183.1H136.5M130 88H136.5M136.5 639.5V646M217.3 639.5V646M298.1 639.5V646M378.8 639.5V646M459.6 639.5V646M540.4 639.5V646M621.2 639.5V646M701.9 639.5V646M782.7 639.5V646M863.5 639.5V646" stroke="#000" stroke-width="1.6" fill="none"/>
<text y="570.73" font-size="19.71" fill="#000"><tspan x="114.88" textLength="10.24" lengthAdjust="spacingAndGlyphs">0</tspan></text>
<text y="475.64" font-size="19.71" fill="#000"><tspan x="104.04" textLength="21.16" lengthAdjust="spacingAndGlyphs">25</tspan></text>
<text y="380.56" font-size="19.71" fill="#000"><tspan x="104.25" textLength="20.89" lengthAdjust="spacingAndGlyphs">50</tspan></text>
<text y="285.47" font-size="19.71" fill="#000"><tspan x="104.02" textLength="21.18" lengthAdjust="spacingAndGlyphs">75</tspan></text>
<text y="190.39" font-size="19.71" fill="#000"><tspan x="92.93" textLength="32.23" lengthAdjust="spacingAndGlyphs">100</tspan></text>
<text y="95.3" font-size="19.71" fill="#000"><tspan x="92.93" textLength="32.29" lengthAdjust="spacingAndGlyphs">125</tspan></text>
<text y="662.8" font-size="19.71" fill="#000"><tspan x="113.88" dy="-1" textLength="12.04" lengthAdjust="spacingAndGlyphs">-</tspan><tspan x="125.92" dy="1" textLength="34.39" lengthAdjust="spacingAndGlyphs">600</tspan></text>
<text y="662.8" font-size="19.71" fill="#000"><tspan x="194.66" dy="-1" textLength="12.04" lengthAdjust="spacingAndGlyphs">-</tspan><tspan x="206.7" dy="1" textLength="34.39" lengthAdjust="spacingAndGlyphs">500</tspan></text>
<text y="662.8" font-size="19.71" fill="#000"><tspan x="275.44" dy="-1" textLength="12.04" lengthAdjust="spacingAndGlyphs">-</tspan><tspan x="287.47" dy="1" textLength="34.39" lengthAdjust="spacingAndGlyphs">400</tspan></text>
<text y="662.8" font-size="19.71" fill="#000"><tspan x="356.22" dy="-1" textLength="12.04" lengthAdjust="spacingAndGlyphs">-</tspan><tspan x="368.25" dy="1" textLength="34.39" lengthAdjust="spacingAndGlyphs">300</tspan></text>
<text y="662.8" font-size="19.71" fill="#000"><tspan x="436.99" dy="-1" textLength="12.04" lengthAdjust="spacingAndGlyphs">-</tspan><tspan x="449.03" dy="1" textLength="34.39" lengthAdjust="spacingAndGlyphs">200</tspan></text>
<text y="662.8" font-size="19.71" fill="#000"><tspan x="517.77" dy="-1" textLength="12.04" lengthAdjust="spacingAndGlyphs">-</tspan><tspan x="529.81" dy="1" textLength="34.39" lengthAdjust="spacingAndGlyphs">100</tspan></text>
<text y="662.8" font-size="19.71" fill="#000"><tspan x="616.45" textLength="10.24" lengthAdjust="spacingAndGlyphs">0</tspan></text>
<text y="662.8" font-size="19.71" fill="#000"><tspan x="685.98" textLength="32.01" lengthAdjust="spacingAndGlyphs">100</tspan></text>
<text y="662.8" font-size="19.71" fill="#000"><tspan x="767.27" textLength="31.49" lengthAdjust="spacingAndGlyphs">200</tspan></text>
<text y="662.8" font-size="19.71" fill="#000"><tspan x="848.29" textLength="31.24" lengthAdjust="spacingAndGlyphs">300</tspan></text>
<text y="16.4" font-size="20.58" fill="#00dc00" stroke="#00dc00" stroke-width="0.8"><tspan x="0.37" textLength="42.66" lengthAdjust="spacingAndGlyphs">0.5°</tspan> <tspan x="50.25" textLength="48.59" lengthAdjust="spacingAndGlyphs">Navy</tspan> <tspan x="110.77" textLength="79.25" lengthAdjust="spacingAndGlyphs">NAVGEM</tspan> <tspan x="202.69" textLength="166.59" lengthAdjust="spacingAndGlyphs">(00Z04FEB2018</tspan> <tspan x="380.51" textLength="42.57" lengthAdjust="spacingAndGlyphs">run)</tspan> <tspan x="436.61" textLength="77.34" lengthAdjust="spacingAndGlyphs">Cyclone</tspan> <tspan x="527.2" textLength="38.81" lengthAdjust="spacingAndGlyphs">#88</tspan> <tspan x="577.87" textLength="74.46" lengthAdjust="spacingAndGlyphs">(Future</tspan> <tspan x="664.63" textLength="85.09" lengthAdjust="spacingAndGlyphs">cyclone)</tspan></text>
<text y="37.2" font-size="19.28" fill="#fa3c3c"><tspan x="91.32" textLength="77.65" lengthAdjust="spacingAndGlyphs">Current</tspan> <tspan x="182.3" textLength="40.42" lengthAdjust="spacingAndGlyphs">(C):</tspan> <tspan x="227.9" textLength="161.5" lengthAdjust="spacingAndGlyphs">00Z04FEB2018</tspan> <tspan x="401.9" textLength="59.1" lengthAdjust="spacingAndGlyphs">(Sun)</tspan> <tspan x="499.89" textLength="46.12" lengthAdjust="spacingAndGlyphs">(0h)</tspan></text>
<text y="55.2" font-size="19.28" fill="#fa3c3c"><tspan x="91.41" textLength="50.77" lengthAdjust="spacingAndGlyphs">Start</tspan> <tspan x="154.81" textLength="38.68" lengthAdjust="spacingAndGlyphs">(A):</tspan> <tspan x="227.9" textLength="161.5" lengthAdjust="spacingAndGlyphs">06Z07FEB2018</tspan> <tspan x="402.02" textLength="60.37" lengthAdjust="spacingAndGlyphs">(Wed)</tspan> <tspan x="499.86" textLength="77.39" lengthAdjust="spacingAndGlyphs">(+78h)</tspan></text>
<text y="72.7" font-size="19.28" fill="#fa3c3c"><tspan x="90.74" textLength="38.14" lengthAdjust="spacingAndGlyphs">End</tspan> <tspan x="142.2" textLength="40.16" lengthAdjust="spacingAndGlyphs">(Z):</tspan> <tspan x="229.26" textLength="160.13" lengthAdjust="spacingAndGlyphs">18Z10FEB2018</tspan> <tspan x="401.88" textLength="53.14" lengthAdjust="spacingAndGlyphs">(Sat)</tspan> <tspan x="499.89" textLength="90.22" lengthAdjust="spacingAndGlyphs">(+162h)</tspan></text>
<text y="226.6" font-size="14.2" fill="#fff" stroke="#fff" stroke-width="0.3"><tspan x="231.57" textLength="86.52" lengthAdjust="spacingAndGlyphs">ASYMMETRIC</tspan> <tspan x="326.3" textLength="38.35" lengthAdjust="spacingAndGlyphs">COLD</tspan><tspan x="364.65" dy="-1" textLength="8.06" lengthAdjust="spacingAndGlyphs">-</tspan><tspan x="372.71" dy="1" textLength="39.88" lengthAdjust="spacingAndGlyphs">CORE</tspan></text>
<text y="397.4" font-size="14.2" fill="#000" stroke="#000" stroke-width="0.3"><tspan x="650.97" textLength="85.51" lengthAdjust="spacingAndGlyphs">ASYMMETRIC</tspan> <tspan x="745.54" textLength="42.01" lengthAdjust="spacingAndGlyphs">WARM</tspan><tspan x="787.55" dy="-1" textLength="7.84" lengthAdjust="spacingAndGlyphs">-</tspan><tspan x="795.39" dy="1" textLength="38.79" lengthAdjust="spacingAndGlyphs">CORE</tspan></text>
<text y="568.6" font-size="14.2" fill="#000" stroke="#000" stroke-width="0.3"><tspan x="292.41" textLength="77.68" lengthAdjust="spacingAndGlyphs">SYMMETRIC</tspan> <tspan x="378.9" textLength="38.08" lengthAdjust="spacingAndGlyphs">COLD</tspan><tspan x="416.98" dy="-1" textLength="8" lengthAdjust="spacingAndGlyphs">-</tspan><tspan x="424.99" dy="1" textLength="39.6" lengthAdjust="spacingAndGlyphs">CORE</tspan></text>
<text y="568.6" font-size="14.2" fill="#000" stroke="#000" stroke-width="0.3"><tspan x="655.01" textLength="77.88" lengthAdjust="spacingAndGlyphs">SYMMETRIC</tspan> <tspan x="741.54" textLength="41.72" lengthAdjust="spacingAndGlyphs">WARM</tspan><tspan x="783.26" dy="-1" textLength="7.79" lengthAdjust="spacingAndGlyphs">-</tspan><tspan x="791.05" dy="1" textLength="38.52" lengthAdjust="spacingAndGlyphs">CORE</tspan></text>
<text y="682" font-size="19.57" fill="#fa3c3c"><tspan x="310.45" textLength="46.4" lengthAdjust="spacingAndGlyphs">Cold</tspan> <tspan x="368.36" textLength="48.64" lengthAdjust="spacingAndGlyphs">Core</tspan></text>
<text y="682" font-size="19.57" fill="#fa3c3c"><tspan x="714" textLength="57.95" lengthAdjust="spacingAndGlyphs">Warm</tspan> <tspan x="784.37" textLength="48.32" lengthAdjust="spacingAndGlyphs">Core</tspan></text>
<text y="714.4" font-size="24.3" fill="#1e3cff" stroke="#1e3cff" stroke-width="0.7"><tspan x="286.65" dy="-2" textLength="16" lengthAdjust="spacingAndGlyphs">-</tspan><tspan x="302.65" dy="2" textLength="18.27" lengthAdjust="spacingAndGlyphs">V</tspan><tspan x="320" dy="3.2" font-size="12.2" font-weight="bold" textLength="7" lengthAdjust="spacingAndGlyphs">T</tspan><tspan x="326.2" dy="-12.4" font-size="12.2" font-weight="bold" textLength="6.6" lengthAdjust="spacingAndGlyphs">L</tspan> <tspan dy="9.2" x="346.94" textLength="56.18" lengthAdjust="spacingAndGlyphs">[900</tspan><tspan x="403.12" dy="-2" textLength="16.86" lengthAdjust="spacingAndGlyphs">-</tspan><tspan x="419.98" dy="2" textLength="99.52" lengthAdjust="spacingAndGlyphs">600hPa</tspan> <tspan x="535.4" textLength="98.19" lengthAdjust="spacingAndGlyphs">Thermal</tspan> <tspan x="648.69" textLength="65.85" lengthAdjust="spacingAndGlyphs">Wind]</tspan></text>
<text y="31.4" font-size="24.35" fill="#1e3cff" transform="rotate(-90)" stroke="#1e3cff" stroke-width="0.7"><tspan x="-712.04" textLength="17.42" lengthAdjust="spacingAndGlyphs">B</tspan> <tspan x="-681.2" textLength="54.6" lengthAdjust="spacingAndGlyphs">[900</tspan><tspan x="-626.6" dy="-2" textLength="16.38" lengthAdjust="spacingAndGlyphs">-</tspan><tspan x="-610.22" dy="2" textLength="96.72" lengthAdjust="spacingAndGlyphs">600hPa</tspan> <tspan x="-497.23" textLength="72.13" lengthAdjust="spacingAndGlyphs">Storm</tspan><tspan x="-425.1" dy="-2" textLength="15.79" lengthAdjust="spacingAndGlyphs">-</tspan><tspan x="-409.31" dy="2" textLength="97.71" lengthAdjust="spacingAndGlyphs">Relative</tspan> <tspan x="-298.95" textLength="110.23" lengthAdjust="spacingAndGlyphs">Thickness</tspan> <tspan x="-176.51" textLength="137.76" lengthAdjust="spacingAndGlyphs">Symmetry]</tspan></text>
<text y="67" font-size="20.29" fill="#fa3c3c" transform="rotate(-90)"><tspan x="-235.64" textLength="118.24" lengthAdjust="spacingAndGlyphs">Asymmetric</tspan></text>
<text y="89" font-size="20.29" fill="#fa3c3c" transform="rotate(-90)"><tspan x="-221.07" textLength="89.54" lengthAdjust="spacingAndGlyphs">(Frontal)</tspan></text>
<text y="66.6" font-size="20.29" fill="#fa3c3c" transform="rotate(-90)"><tspan x="-604.94" textLength="108.14" lengthAdjust="spacingAndGlyphs">Symmetric</tspan></text>
<text y="89" font-size="20.29" fill="#fa3c3c" transform="rotate(-90)"><tspan x="-612.86" textLength="124.12" lengthAdjust="spacingAndGlyphs">(Nonfrontal)</tspan></text>
<text y="743.8" font-size="19.42" fill="#c2c2c2"><tspan x="8.97" textLength="60.85" lengthAdjust="spacingAndGlyphs">NOTE:</tspan> <tspan x="94.67" textLength="11.77" lengthAdjust="spacingAndGlyphs">A</tspan> <tspan x="119.18" textLength="48.73" lengthAdjust="spacingAndGlyphs">24hr</tspan> <tspan x="179.89" textLength="80.66" lengthAdjust="spacingAndGlyphs">running</tspan> <tspan x="271.85" textLength="58.47" lengthAdjust="spacingAndGlyphs">mean</tspan> <tspan x="343.54" textLength="98.25" lengthAdjust="spacingAndGlyphs">smoother</tspan> <tspan x="454.6" textLength="17.26" lengthAdjust="spacingAndGlyphs">is</tspan> <tspan x="485.22" textLength="74.47" lengthAdjust="spacingAndGlyphs">applied</tspan> <tspan x="573.25" textLength="19.54" lengthAdjust="spacingAndGlyphs">to</tspan> <tspan x="606.26" textLength="31.34" lengthAdjust="spacingAndGlyphs">the</tspan> <tspan x="650.95" textLength="42.6" lengthAdjust="spacingAndGlyphs">CPS</tspan> <tspan x="707.12" textLength="108.17" lengthAdjust="spacingAndGlyphs">trajectory.</tspan></text>
<g id="track">
<mask id="mA" maskUnits="userSpaceOnUse" x="627.3" y="519.8" width="83.2" height="90.7"><text x="668.9" y="589.6" font-size="69.8" text-anchor="middle" textLength="41.6" lengthAdjust="spacingAndGlyphs" fill="#fff" stroke="#000" stroke-width="4.1" stroke-linejoin="round">A</text></mask>
<text x="668.9" y="589.6" font-size="69.8" text-anchor="middle" textLength="41.6" lengthAdjust="spacingAndGlyphs" fill="#000" mask="url(#mA)">A</text>
<mask id="mZ" maskUnits="userSpaceOnUse" x="554.7" y="496.7" width="80.4" height="90.7"><text x="594.9" y="566.5" font-size="69.8" text-anchor="middle" textLength="40.2" lengthAdjust="spacingAndGlyphs" fill="#fff" stroke="#000" stroke-width="4.1" stroke-linejoin="round">Z</text></mask>
<text x="594.9" y="566.5" font-size="69.8" text-anchor="middle" textLength="40.2" lengthAdjust="spacingAndGlyphs" fill="#000" mask="url(#mZ)">Z</text>
<polyline points="669.1,564.3 664,549.9 661,543.6 653.3,533.1 647,524.7 634.7,509.6 626,507.3 618.3,509 615.8,516 610.3,520.6 607.1,536.3 603.6,539.5 599.8,537 594.9,541.9" fill="none" stroke="#000" stroke-width="2" stroke-linejoin="round"/>
<circle cx="669.1" cy="564.3" r="2.9" fill="#8210d8" stroke="#000" stroke-width="1.1"/>
<path d="M667.8 563l2.6 2.6m0 -2.6l-2.6 2.6" stroke="#fff" stroke-opacity="0.85" stroke-width="1" fill="none"/>
<circle cx="664" cy="549.9" r="2.9" fill="#8210d8" stroke="#000" stroke-width="1.1"/>
<path d="M662.7 548.6l2.6 2.6m0 -2.6l-2.6 2.6" stroke="#fff" stroke-opacity="0.85" stroke-width="1" fill="none"/>
<circle cx="661" cy="543.6" r="2.9" fill="#8210d8" stroke="#000" stroke-width="1.1"/>
<path d="M659.7 542.3l2.6 2.6m0 -2.6l-2.6 2.6" stroke="#fff" stroke-opacity="0.85" stroke-width="1" fill="none"/>
<circle cx="653.3" cy="533.1" r="2.9" fill="#8210d8" stroke="#000" stroke-width="1.1"/>
<path d="M652 531.8l2.6 2.6m0 -2.6l-2.6 2.6" stroke="#fff" stroke-opacity="0.85" stroke-width="1" fill="none"/>
<circle cx="647" cy="524.7" r="2.9" fill="#8210d8" stroke="#000" stroke-width="1.1"/>
<path d="M645.7 523.4l2.6 2.6m0 -2.6l-2.6 2.6" stroke="#fff" stroke-opacity="0.85" stroke-width="1" fill="none"/>
<circle cx="634.7" cy="509.6" r="2.9" fill="#8210d8" stroke="#000" stroke-width="1.1"/>
<path d="M633.4 508.3l2.6 2.6m0 -2.6l-2.6 2.6" stroke="#fff" stroke-opacity="0.85" stroke-width="1" fill="none"/>
<circle cx="626" cy="507.3" r="2.9" fill="#8210d8" stroke="#000" stroke-width="1.1"/>
<path d="M624.7 506l2.6 2.6m0 -2.6l-2.6 2.6" stroke="#fff" stroke-opacity="0.85" stroke-width="1" fill="none"/>
<circle cx="618.3" cy="509" r="2.9" fill="#8210d8" stroke="#000" stroke-width="1.1"/>
<path d="M617 507.7l2.6 2.6m0 -2.6l-2.6 2.6" stroke="#fff" stroke-opacity="0.85" stroke-width="1" fill="none"/>
<circle cx="615.8" cy="516" r="2.9" fill="#8210d8" stroke="#000" stroke-width="1.1"/>
<path d="M614.5 514.7l2.6 2.6m0 -2.6l-2.6 2.6" stroke="#fff" stroke-opacity="0.85" stroke-width="1" fill="none"/>
<circle cx="610.3" cy="520.6" r="2.9" fill="#8210d8" stroke="#000" stroke-width="1.1"/>
<path d="M609 519.3l2.6 2.6m0 -2.6l-2.6 2.6" stroke="#fff" stroke-opacity="0.85" stroke-width="1" fill="none"/>
<circle cx="607.1" cy="536.3" r="2.9" fill="#8210d8" stroke="#000" stroke-width="1.1"/>
<path d="M605.8 535l2.6 2.6m0 -2.6l-2.6 2.6" stroke="#fff" stroke-opacity="0.85" stroke-width="1" fill="none"/>
<circle cx="603.6" cy="539.5" r="2.9" fill="#8210d8" stroke="#000" stroke-width="1.1"/>
<path d="M602.3 538.2l2.6 2.6m0 -2.6l-2.6 2.6" stroke="#fff" stroke-opacity="0.85" stroke-width="1" fill="none"/>
<circle cx="599.8" cy="537" r="2.9" fill="#8210d8" stroke="#000" stroke-width="1.1"/>
<path d="M598.5 535.7l2.6 2.6m0 -2.6l-2.6 2.6" stroke="#fff" stroke-opacity="0.85" stroke-width="1" fill="none"/>
<circle cx="594.9" cy="541.9" r="4.3" fill="#8210d8" stroke="#000" stroke-width="1.1"/>
<path d="M592.9 539.9l4 4m0 -4l-4 4" stroke="#fff" stroke-opacity="0.85" stroke-width="1" fill="none"/>
</g>
<g id="inset">
<clipPath id="ci"><rect x="636.3" y="59" width="289.7" height="205.2"/></clipPath>
<g clip-path="url(#ci)">
<rect x="636.3" y="59" width="289.7" height="205.2" fill="#a8a8a8"/>
<path d="M634.6 220.2C635.7 220.2 633 222.3 637.8 220.2C642.6 218.1 642.6 219.1 649 213.8C655.4 208.5 652.2 210.6 657 204.2C661.8 197.8 658.6 199.4 663.4 194.6C668.2 189.8 665.5 191.4 671.4 189.8C677.3 188.2 674.6 189.3 681 189.8C687.4 190.3 685.3 192.5 690.6 191.4C695.9 190.3 693.3 190.3 697 186.6C700.7 182.9 697.5 183.4 701.8 180.2C706.1 177 703.4 179.1 709.8 177C716.2 174.9 714.6 177.5 721 173.8C727.4 170.1 724.2 171.7 729 165.8C733.8 159.9 731.7 159.9 735.4 156.2C739.1 152.5 736.5 154.1 740.2 154.6C743.9 155.1 742.3 155.1 746.6 157.8C750.9 160.5 748.2 160.5 753 162.6C757.8 164.7 755.7 165.8 761 164.2C766.3 162.6 763.1 161.5 769 157.8C774.9 154.1 774.9 154.9 778.6 153C782.3 151.1 776.9 151.7 780 152.2C783.1 152.7 782.7 150.1 788 154.6C793.3 159.1 790.7 160.7 796 165.8C801.3 170.9 796 167.9 804 169.8C812 171.7 810.9 169.5 820 171.4C829.1 173.3 824.8 174.3 831.2 175.4C837.6 176.5 834.9 176.7 839.2 174.6C843.5 172.5 839.7 173 844 169C848.3 165 845.6 165 852 162.6C858.4 160.2 855.2 161.3 863.2 161.8C871.2 162.3 867.5 162.9 876 164.2C884.5 165.5 881.3 163.7 888.8 165.8C896.3 167.9 892.5 166.9 898.4 170.6C904.3 174.3 900.5 173.5 906.4 177C912.3 180.5 909.1 180.2 916 181C922.9 181.8 923.5 179.9 927.2 179.4L928 266.2L634.3 266.2Z" fill="#b3b3b3"/>
<path d="M634.6 266.6C642.1 265.5 646.3 267.7 657 263.4C667.7 259.1 661.8 260.7 666.6 253.8C671.4 246.9 667.7 247.1 671.4 242.6C675.1 238.1 671.9 240.7 677.8 240.2C683.7 239.7 683.1 239.1 689 241C694.9 242.9 691.1 241.5 695.4 245.8C699.7 250.1 697.5 249.8 701.8 253.8C706.1 257.8 703.4 257.3 708.2 257.8C713 258.3 711.4 258.3 716.2 255.4C721 252.5 718.9 253.8 722.6 249C726.3 244.2 722.6 245.8 727.4 241C732.2 236.2 730.1 237.8 737 234.6C743.9 231.4 741.8 235.7 748.2 231.4C754.6 227.1 751.4 225.8 756.2 221.8C761 217.8 758.3 219.9 762.6 219.4C766.9 218.9 764.7 217.3 769 220.2C773.3 223.1 771.7 222.9 775.4 228.2C779.1 233.5 778.7 233.3 780.2 236.2C781.7 239.1 777.9 236.2 780 237C782.1 237.8 782.7 239.9 786.4 238.6C790.1 237.3 786.4 237.5 791.2 233C796 228.5 795.5 226.6 800.8 225C806.1 223.4 803.5 224.7 807.2 228.2C810.9 231.7 808.8 234.1 812 235.4C815.2 236.7 813.6 237.3 816.8 232.2C820 227.1 817.9 226.1 821.6 220.2C825.3 214.3 823.7 216.5 828 214.6C832.3 212.7 830.7 212.7 834.4 214.6C838.1 216.5 835.5 216.5 839.2 220.2C842.9 223.9 841.3 224.2 845.6 225.8C849.9 227.4 847.2 226.9 852 225C856.8 223.1 854.1 223.4 860 220.2C865.9 217 864.3 216.5 869.6 215.4C874.9 214.3 871.7 213.8 876 217C880.3 220.2 878.1 221 882.4 225C886.7 229 884.5 228.5 888.8 229C893.1 229.5 892 231.1 895.2 226.6C898.4 222.1 895.2 221.3 898.4 215.4C901.6 209.5 900.5 211.7 904.8 209C909.1 206.3 906.9 206.9 911.2 207.4C915.5 207.9 912.3 207.4 917.6 210.6C922.9 213.8 924 214.9 927.2 217L928 266.2L634.3 266.2Z" fill="#bebebe"/>
<path d="M684.2 97.8C683.4 100.2 683.3 98.3 681.8 105C680.3 111.7 680 110.6 679.7 117.8C679.5 125 677.9 125.5 681 126.6C684.1 127.7 684.2 125 689 121C693.8 117 691.7 119.9 695.4 114.6C699.1 109.3 696.5 109.3 700.2 105C703.9 100.7 702.1 103.1 706.6 101.8C711.1 100.5 706.3 101 713.8 101C721.3 101 721.3 101 729 101.8C736.7 102.6 731.1 102.3 737 103.4C742.9 104.5 740.7 102.9 746.6 105C752.5 107.1 749.8 107.9 754.6 109.8C759.4 111.7 756.2 110.6 761 110.6C765.8 110.6 763.7 110.2 769 109.8C774.3 109.4 771.7 109.1 777 109.3C782.3 109.6 782.4 109.9 785 110.6C787.6 111.3 783.3 111.7 784.8 111.4C786.3 111.1 786.9 113 789.6 109.8C792.3 106.6 790.7 107.7 792.8 101.8C794.9 95.9 793.9 98.1 796 92.2C798.1 86.3 796 87.9 799.2 84.2C802.4 80.5 801.3 81.5 805.6 81C809.9 80.5 807.5 81 812 82.6C816.5 84.2 811.8 85.8 819.2 85.8C826.6 85.8 826.9 85.8 834.1 82.6C841.3 79.4 836.4 80.5 840.8 76.2C845.2 71.9 842.9 73.5 847.2 69.8C851.5 66.1 848.8 67.1 853.6 65C858.4 62.9 856.3 64.7 861.6 63.4C866.9 62.1 864.8 61.5 869.6 61C874.4 60.5 871.7 62.2 876 61.8C880.3 61.4 878.1 60.7 882.4 59.9C886.7 59.1 886.7 59.6 888.8 59.4L890 57L700 57L668 95Z" fill="#9b9b9b"/>
<path d="M708.2 61C709 62.3 709.5 62.3 710.6 65C711.7 67.7 709.5 67 711.4 69C713.3 71 711.9 70.3 716.2 71.1C720.5 71.9 718.3 72.4 724.2 71.4C730.1 70.4 728.5 70.6 733.8 68.2C739.1 65.8 737 66.9 740.2 64.2C743.4 61.5 742.3 61.5 743.4 60.2L744 57L708 57Z" fill="#a8a8a8"/>
<polygon points="636.3,57 712,57 709,59.9 706.6,63.4 703.4,67.4 700.2,70.6 697,68.5 692.2,70.6 685.8,73 679.4,77.8 673,85.8 669,93.8 668.5,101.8 668.2,111.4 667.9,117.8 666.9,124.2 661.8,129 657,135.4 652.2,143.4 649,151.4 644.2,158.6 636.2,164.2 636.3,164.5" fill="#d2b48c"/>
<polyline points="760,59 735,60.5 712,60 709,59.9 706.6,63.4 703.4,67.4 700.2,70.6 697,68.5 692.2,70.6 685.8,73 679.4,77.8 673,85.8 669,93.8 668.5,101.8 668.2,111.4 667.9,117.8 666.9,124.2 661.8,129 657,135.4 652.2,143.4 649,151.4 644.2,158.6 636.2,164.2" fill="none" stroke="#000" stroke-width="1.7" stroke-linejoin="round"/>
<path d="M712 60.5L700.5 69.5" stroke="#000" stroke-width="3" fill="none"/>
<path d="M684.2 97.8C683.4 100.2 683.3 98.3 681.8 105C680.3 111.7 680 110.6 679.7 117.8C679.5 125 677.9 125.5 681 126.6C684.1 127.7 684.2 125 689 121C693.8 117 691.7 119.9 695.4 114.6C699.1 109.3 696.5 109.3 700.2 105C703.9 100.7 702.1 103.1 706.6 101.8C711.1 100.5 711.4 101.3 713.8 101" fill="none" stroke="#fa3c3c" stroke-width="1.3" stroke-linejoin="round"/>
<path d="M729 101.8C731.7 102.3 731.1 102.3 737 103.4C742.9 104.5 740.7 102.9 746.6 105C752.5 107.1 749.8 107.9 754.6 109.8C759.4 111.7 756.2 110.6 761 110.6C765.8 110.6 763.7 110.2 769 109.8C774.3 109.4 771.7 109.1 777 109.3C782.3 109.6 782.4 109.9 785 110.6C787.6 111.3 783.3 111.7 784.8 111.4C786.3 111.1 786.9 113 789.6 109.8C792.3 106.6 790.7 107.7 792.8 101.8C794.9 95.9 793.9 98.1 796 92.2C798.1 86.3 796 87.9 799.2 84.2C802.4 80.5 801.3 81.5 805.6 81C809.9 80.5 807.5 81 812 82.6C816.5 84.2 816.8 84.7 819.2 85.8" fill="none" stroke="#fa3c3c" stroke-width="1.3" stroke-linejoin="round"/>
<path d="M834.1 82.6C836.3 80.5 836.4 80.5 840.8 76.2C845.2 71.9 842.9 73.5 847.2 69.8C851.5 66.1 848.8 67.1 853.6 65C858.4 62.9 856.3 64.7 861.6 63.4C866.9 62.1 864.8 61.5 869.6 61C874.4 60.5 871.7 62.2 876 61.8C880.3 61.4 878.1 60.7 882.4 59.9C886.7 59.1 886.7 59.6 888.8 59.4" fill="none" stroke="#fa3c3c" stroke-width="1.3" stroke-linejoin="round"/>
<path d="M708.2 61C709 62.3 709.5 62.3 710.6 65C711.7 67.7 709.5 67 711.4 69C713.3 71 711.9 70.3 716.2 71.1C720.5 71.9 718.3 72.4 724.2 71.4C730.1 70.4 728.5 70.6 733.8 68.2C739.1 65.8 737 66.9 740.2 64.2C743.4 61.5 742.3 61.5 743.4 60.2" fill="none" stroke="#fa3c3c" stroke-width="1.3" stroke-linejoin="round"/>
<ellipse cx="671.4" cy="112.2" rx="2" ry="3.6" fill="none" stroke="#fa3c3c" stroke-width="1.2"/>
<rect x="669.5" y="87.7" width="14.4" height="11.7" fill="#fff"/>
<text x="670.7" y="97.8" font-size="12.6" fill="#000" textLength="12" lengthAdjust="spacingAndGlyphs">26</text>
<rect x="713.8" y="94.6" width="15.2" height="12" fill="#fff"/>
<text x="715" y="105" font-size="12.6" fill="#000" textLength="12.8" lengthAdjust="spacingAndGlyphs">26</text>
<rect x="819.2" y="81.8" width="14.9" height="12" fill="#fff"/>
<text x="820.4" y="92.2" font-size="12.6" fill="#000" textLength="12.5" lengthAdjust="spacingAndGlyphs">26</text>
<mask id="miA" maskUnits="userSpaceOnUse" x="708.2" y="59.7" width="67.8" height="75.4"><text x="742.1" y="117.7" font-size="58" text-anchor="middle" textLength="33.9" lengthAdjust="spacingAndGlyphs" fill="#fff" stroke="#000" stroke-width="3.6" stroke-linejoin="round">A</text></mask>
<text x="742.1" y="117.7" font-size="58" text-anchor="middle" textLength="33.9" lengthAdjust="spacingAndGlyphs" fill="#2a2a2a" mask="url(#miA)">A</text>
<mask id="miZ" maskUnits="userSpaceOnUse" x="786.1" y="168" width="65.8" height="75.4"><text x="819" y="226" font-size="58" text-anchor="middle" textLength="32.9" lengthAdjust="spacingAndGlyphs" fill="#fff" stroke="#000" stroke-width="3.6" stroke-linejoin="round">Z</text></mask>
<text x="819" y="226" font-size="58" text-anchor="middle" textLength="32.9" lengthAdjust="spacingAndGlyphs" fill="#2a2a2a" mask="url(#miZ)">Z</text>
<polyline points="741.8,97 744.2,101.8 747.4,114.6 749,122.6 748.2,129 751.4,135.4 752.2,145 753,153 753.8,165 761,173.8 765.8,178.6 769,188.2 778.6,193.8 785,197.8 788,200.2 793.6,206.2 819.2,205.8" fill="none" stroke="#8200dc" stroke-width="2.6" stroke-linejoin="round"/>
</g>
<rect x="635.1" y="38.1" width="292" height="21.8" fill="#000"/>
<rect x="638.1" y="42.3" width="284.3" height="15.5" fill="#fff"/>
<path d="M636.3 59V264.2H926V59" stroke="#000" stroke-width="2.2" fill="none"/>
<text y="55.7" font-size="15.51" fill="#686868"><tspan x="641.39" textLength="45.19" lengthAdjust="spacingAndGlyphs">Track</tspan> <tspan x="698.23" textLength="12.66" lengthAdjust="spacingAndGlyphs">&amp;</tspan> <tspan x="722.21" textLength="54.13" lengthAdjust="spacingAndGlyphs">03FEB</tspan> <tspan x="786.33" textLength="46.56" lengthAdjust="spacingAndGlyphs">NCEP</tspan> <tspan x="842.71" textLength="32.86" lengthAdjust="spacingAndGlyphs">RTG</tspan> <tspan x="885.68" textLength="30.68" lengthAdjust="spacingAndGlyphs">SST</tspan></text>
<path d="M653.8 38V34.5M753.8 38V34.5M853.6 38V34.5M635.2 142H631.6M635.2 258.6H631.6" stroke="#000" stroke-width="1" fill="none"/>
<text x="641.96" y="33.6" font-size="13.91" fill="#1c1c1c" textLength="22.68" lengthAdjust="spacingAndGlyphs">50W</text>
<text x="742.74" y="33.6" font-size="13.91" fill="#1c1c1c" textLength="23.1" lengthAdjust="spacingAndGlyphs">40W</text>
<text x="842.49" y="33.6" font-size="13.91" fill="#1c1c1c" textLength="22.15" lengthAdjust="spacingAndGlyphs">30W</text>
<text x="606.13" y="146.6" font-size="13.91" fill="#1c1c1c" textLength="21.83" lengthAdjust="spacingAndGlyphs">30S</text>
<text x="606.32" y="263.4" font-size="13.91" fill="#1c1c1c" textLength="21.64" lengthAdjust="spacingAndGlyphs">40S</text>
<rect x="929.3" y="32.6" width="10.8" height="21.4" fill="#8c8c8c"/>
<rect x="929.3" y="53.8" width="10.8" height="21.4" fill="#999999"/>
<rect x="929.3" y="74.9" width="10.8" height="21.4" fill="#a3a3a3"/>
<rect x="929.3" y="96" width="10.8" height="21.4" fill="#afafaf"/>
<rect x="929.3" y="117.2" width="10.8" height="21.4" fill="#bababa"/>
<rect x="929.3" y="138.3" width="10.8" height="21.4" fill="#c6c6c6"/>
<rect x="929.3" y="159.5" width="10.8" height="21.4" fill="#d0d0d0"/>
<rect x="929.3" y="180.6" width="10.8" height="21.4" fill="#dadada"/>
<rect x="929.3" y="201.8" width="10.8" height="21.4" fill="#e3e3e3"/>
<rect x="929.3" y="222.9" width="10.8" height="21.4" fill="#eaeaea"/>
<polygon points="929.3,32.6 940.1,32.6 934.7,10.3" fill="#7d7d7d" stroke="#333" stroke-width="1.2" stroke-linejoin="miter"/>
<polygon points="929.3,244.1 940.1,244.1 934.7,265.8" fill="#f4f4f4" stroke="#333" stroke-width="1.2"/>
<path d="M929.3 32.6V244.1M940.1 32.6V244.1" stroke="#444" stroke-width="1.4" fill="none"/>
<path d="M928.7 32.6H940.7M928.7 53.8H940.7M928.7 74.9H940.7M928.7 96H940.7M928.7 117.2H940.7M928.7 138.3H940.7M928.7 159.5H940.7M928.7 180.6H940.7M928.7 201.8H940.7M928.7 222.9H940.7M928.7 244.1H940.7" stroke="#111" stroke-width="1.5" fill="none"/>
<text x="942.6" y="38.2" font-size="16.2" fill="#222" textLength="16.5" lengthAdjust="spacingAndGlyphs">30</text>
<text x="942.6" y="59.4" font-size="16.2" fill="#222" textLength="16.5" lengthAdjust="spacingAndGlyphs">28</text>
<text x="942.6" y="80.5" font-size="16.2" fill="#222" textLength="16.5" lengthAdjust="spacingAndGlyphs">26</text>
<text x="942.6" y="101.6" font-size="16.2" fill="#222" textLength="16.5" lengthAdjust="spacingAndGlyphs">23</text>
<text x="942.6" y="122.8" font-size="16.2" fill="#222" textLength="16.5" lengthAdjust="spacingAndGlyphs">20</text>
<text x="942.6" y="143.9" font-size="16.2" fill="#222" textLength="16.5" lengthAdjust="spacingAndGlyphs">17</text>
<text x="942.6" y="165.1" font-size="16.2" fill="#222" textLength="16.5" lengthAdjust="spacingAndGlyphs">14</text>
<text x="942.6" y="186.2" font-size="16.2" fill="#222" textLength="16.5" lengthAdjust="spacingAndGlyphs">11</text>
<text x="942.6" y="207.4" font-size="16.2" fill="#222" textLength="7.6" lengthAdjust="spacingAndGlyphs">8</text>
<text x="942.6" y="228.5" font-size="16.2" fill="#222" textLength="7.6" lengthAdjust="spacingAndGlyphs">5</text>
<text x="942.6" y="249.7" font-size="16.2" fill="#222" textLength="7.6" lengthAdjust="spacingAndGlyphs">2</text>
</g>
<g id="legend">
<text y="288.1" font-size="15.51" fill="#262626"><tspan x="874.59" textLength="57.11" lengthAdjust="spacingAndGlyphs">Marker</tspan> <tspan x="941.74" textLength="47.5" lengthAdjust="spacingAndGlyphs">Style:</tspan></text>
<text y="310.1" font-size="15.51" fill="#262626"><tspan x="891.46" textLength="73.21" lengthAdjust="spacingAndGlyphs">Analysis:</tspan></text>
<text y="331.5" font-size="15.51" fill="#262626"><tspan x="886.83" textLength="79.92" lengthAdjust="spacingAndGlyphs">Forecast:</tspan></text>
<text y="358.5" font-size="15.51" fill="#262626"><tspan x="864.55" textLength="70.48" lengthAdjust="spacingAndGlyphs">Intensity</tspan> <tspan x="945.58" textLength="53.51" lengthAdjust="spacingAndGlyphs">(hPa):</tspan></text>
<text y="534.4" font-size="15.51" fill="#262626"><tspan x="871.28" textLength="40.16" lengthAdjust="spacingAndGlyphs">Mean</tspan> <tspan x="919.71" textLength="48.73" lengthAdjust="spacingAndGlyphs">radius</tspan> <tspan x="976.82" textLength="15.56" lengthAdjust="spacingAndGlyphs">of</tspan></text>
<text y="556.7" font-size="15.51" fill="#262626"><tspan x="881.59" textLength="59.41" lengthAdjust="spacingAndGlyphs">925hPa</tspan> <tspan x="950.28" textLength="32.28" lengthAdjust="spacingAndGlyphs">gale</tspan></text>
<text y="578.6" font-size="15.51" fill="#262626"><tspan x="865.65" textLength="38.82" lengthAdjust="spacingAndGlyphs">force</tspan> <tspan x="914.62" textLength="32.5" lengthAdjust="spacingAndGlyphs">wind</tspan> <tspan x="956.83" textLength="42.78" lengthAdjust="spacingAndGlyphs">(km):</tspan></text>
<path d="M872 291.2H992M872 361.6H992M866 582.1H1000" stroke="#000" stroke-width="2" fill="none"/>
<circle cx="981.8" cy="304.2" r="8.9" fill="#000"/>
<circle cx="981.8" cy="326.2" r="8.9" fill="#000"/>
<path d="M975.6 320L988 332.4M988 320L975.6 332.4" stroke="#fff" stroke-width="2.1" fill="none"/>
<circle cx="909" cy="383.8" r="17.6" fill="#000000"/>
<text x="890.5" y="388.7" font-size="13.91" fill="#fff" textLength="36.44" lengthAdjust="spacingAndGlyphs" fill-opacity="0.82">1015</text>
<circle cx="909" cy="423.5" r="17.6" fill="#a000c8"/>
<text x="890.5" y="428.4" font-size="13.91" fill="#fff" textLength="36.38" lengthAdjust="spacingAndGlyphs" fill-opacity="0.82">1010</text>
<circle cx="909" cy="463.2" r="17.6" fill="#1e3cff"/>
<text x="890.5" y="468.1" font-size="13.91" fill="#fff" textLength="36.38" lengthAdjust="spacingAndGlyphs" fill-opacity="0.82">1000</text>
<circle cx="909" cy="502.9" r="17.6" fill="#00c8c8"/>
<text x="892.32" y="507.8" font-size="13.91" fill="#fff" textLength="33.21" lengthAdjust="spacingAndGlyphs" fill-opacity="0.82">990</text>
<circle cx="954.5" cy="383.8" r="17.6" fill="#00dc00"/>
<text x="937.82" y="388.7" font-size="13.91" fill="#fff" textLength="33.21" lengthAdjust="spacingAndGlyphs" fill-opacity="0.82">980</text>
<circle cx="954.5" cy="423.5" r="17.6" fill="#e6dc32"/>
<text x="937.82" y="428.4" font-size="13.91" fill="#fff" textLength="33.21" lengthAdjust="spacingAndGlyphs" fill-opacity="0.82">970</text>
<circle cx="954.5" cy="463.2" r="17.6" fill="#f08228"/>
<text x="937.82" y="468.1" font-size="13.91" fill="#fff" textLength="33.21" lengthAdjust="spacingAndGlyphs" fill-opacity="0.82">960</text>
<circle cx="954.5" cy="502.9" r="17.6" fill="#f00082"/>
<text x="937.82" y="507.8" font-size="13.91" fill="#fff" textLength="33.21" lengthAdjust="spacingAndGlyphs" fill-opacity="0.82">950</text>
<circle cx="922.7" cy="595.8" r="3.4" fill="#000"/>
<text x="948.01" y="600.9" font-size="14.78" fill="#f23c9b" textLength="40.8" lengthAdjust="spacingAndGlyphs">&lt;100</text>
<circle cx="922.7" cy="626.7" r="5" fill="#000"/>
<text x="953.4" y="631.8" font-size="14.78" fill="#f23c9b" textLength="30.01" lengthAdjust="spacingAndGlyphs">200</text>
<circle cx="922.7" cy="657.3" r="7.2" fill="#000"/>
<text x="953.62" y="662.4" font-size="14.78" fill="#f23c9b" textLength="29.78" lengthAdjust="spacingAndGlyphs">300</text>
<circle cx="922.7" cy="688.3" r="11.5" fill="#000"/>
<text x="953.58" y="693.4" font-size="14.78" fill="#f23c9b" textLength="29.81" lengthAdjust="spacingAndGlyphs">500</text>
<circle cx="922.7" cy="719" r="17.2" fill="#000"/>
<text x="953.38" y="724.1" font-size="14.78" fill="#f23c9b" textLength="30.03" lengthAdjust="spacingAndGlyphs">750</text>
</g>
</svg>
</body></html>
